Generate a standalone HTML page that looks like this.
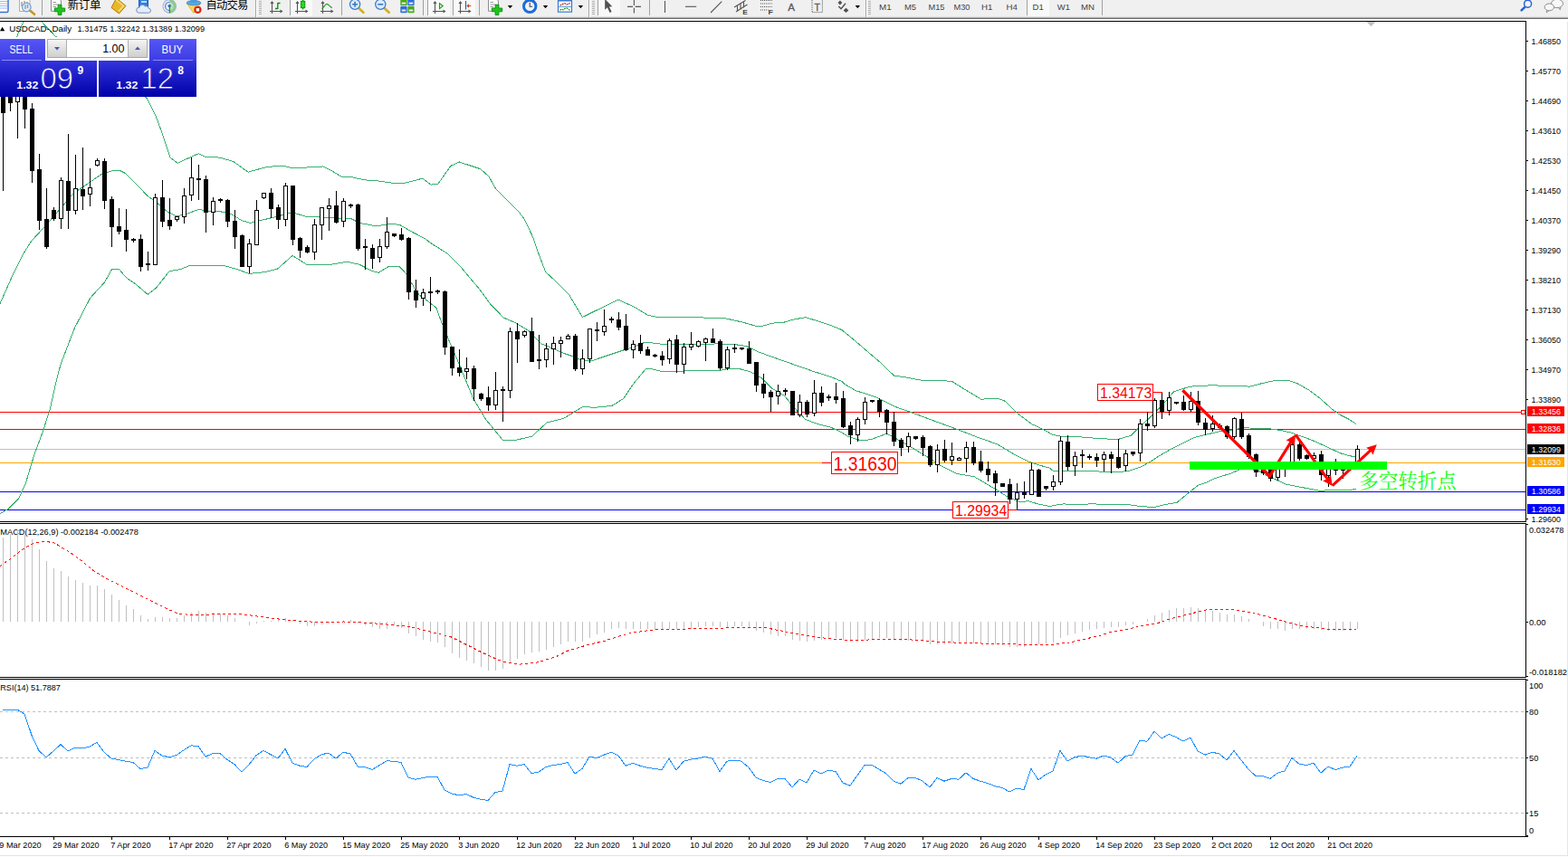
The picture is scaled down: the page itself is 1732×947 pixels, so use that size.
<!DOCTYPE html>
<html><head><meta charset="utf-8"><title>USDCAD Daily</title>
<style>
html,body{margin:0;padding:0;background:#fff;width:1732px;height:947px;overflow:hidden;font-family:"Liberation Sans",sans-serif;}
svg{display:block;position:absolute;left:0;top:0}
text{font-family:"Liberation Sans",sans-serif;}
</style></head><body>
<svg width="1732" height="947" viewBox="0 0 1732 947">
<rect x="0" y="0" width="1732" height="947" fill="#fff" />
<g shape-rendering="crispEdges">
<rect x="0" y="23" width="1686" height="1" fill="#000" />
<rect x="1685" y="23" width="1" height="554" fill="#000" />
<rect x="0" y="576" width="1686" height="1" fill="#000" />
<rect x="0" y="578" width="1686" height="1" fill="#000" />
<rect x="1685" y="578" width="1" height="171" fill="#000" />
<rect x="0" y="748" width="1686" height="1" fill="#000" />
<rect x="0" y="750" width="1686" height="1" fill="#000" />
<rect x="1685" y="750" width="1" height="175" fill="#000" />
<rect x="0" y="924" width="1688" height="1" fill="#000" />
<rect x="1731" y="24" width="1" height="922" fill="#e6e6e6" />
<rect x="0" y="945" width="1732" height="1" fill="#e2e2e2" />
</g>
<defs><clipPath id="cm"><rect x="0" y="24" width="1685" height="552"/></clipPath><linearGradient id="gp" x1="0" y1="0" x2="0" y2="1"><stop offset="0" stop-color="#3434de"/><stop offset="1" stop-color="#0000a8"/></linearGradient><linearGradient id="gb" x1="0" y1="0" x2="0" y2="1"><stop offset="0" stop-color="#5656f6"/><stop offset="1" stop-color="#3c3ce2"/></linearGradient><linearGradient id="gs" x1="0" y1="0" x2="0" y2="1"><stop offset="0" stop-color="#f4f4f4"/><stop offset="1" stop-color="#cfcfcf"/></linearGradient><linearGradient id="gp2" gradientUnits="userSpaceOnUse" x1="0" y1="67" x2="0" y2="107"><stop offset="0" stop-color="#3434de"/><stop offset="1" stop-color="#0000a8"/></linearGradient></defs>
<g clip-path="url(#cm)">
<g shape-rendering="crispEdges">
<rect x="0" y="455" width="1685" height="1" fill="#ff0000" />
<rect x="0" y="474" width="1685" height="1" fill="#ff0000" />
<rect x="0" y="496" width="1685" height="1" fill="#c0c0c0" />
<rect x="0" y="511" width="1685" height="1" fill="#ffa500" />
<rect x="0" y="543" width="1685" height="1" fill="#0000ff" />
<rect x="0" y="563" width="1685" height="1" fill="#0000ff" />
</g>
<polyline points="18.6,40.6 25.9,24.0 30.0,16.0 40.0,16.0 45.8,24.0 61.8,40.6 100.0,68.0 140.0,94.0 162.6,108.8 172.0,127.9 178.9,146.5 183.5,160.4 188.2,174.3 196.3,180.2 211.4,173.2 219.6,169.7 226.5,173.2 240.0,173.9 246.0,175.0 258.0,178.6 274.0,190.2 295.0,184.4 313.6,183.2 323.0,186.0 339.0,185.0 356.6,184.0 364.8,187.9 378.7,196.0 388.0,195.5 402.0,198.8 418.0,200.0 429.8,201.8 443.8,203.0 453.0,200.7 466.7,197.2 476.0,204.1 484.0,203.0 498.0,183.2 507.4,179.0 530.6,186.7 540.0,194.9 546.9,207.6 560.8,221.6 572.4,233.2 579.4,242.5 588.7,262.2 594.8,280.0 602.6,300.6 616.6,313.3 628.2,325.0 643.4,350.5 683.0,331.0 690.0,334.4 701.6,339.7 715.6,348.3 724.9,350.2 759.7,350.7 799.2,351.4 820.0,356.0 834.0,360.0 843.3,360.0 852.6,357.2 866.6,356.0 875.9,353.2 889.8,350.7 903.8,354.9 917.7,359.5 930.0,364.6 945.0,377.0 960.0,390.0 971.8,400.0 987.6,415.2 1000.3,416.9 1019.3,420.5 1051.0,421.1 1067.9,431.7 1083.7,441.2 1101.7,440.1 1110.2,443.3 1122.8,456.0 1139.7,468.7 1150.0,473.3 1162.7,480.3 1175.4,482.8 1192.3,482.8 1213.4,484.5 1234.5,485.6 1249.3,481.3 1259.9,470.8 1270.4,461.3 1281.0,450.7 1291.6,439.1 1296.3,433.0 1305.8,429.8 1315.3,427.1 1337.5,425.8 1366.0,426.6 1380.3,427.1 1394.6,423.5 1408.8,420.3 1423.1,420.3 1432.6,423.5 1445.2,430.6 1457.9,440.1 1472.2,452.8 1480.1,458.3 1489.6,463.1 1498.3,468.6" fill="none" stroke="#38b070" stroke-width="1" shape-rendering="crispEdges"/>
<polyline points="0.0,335.5 12.7,307.0 26.0,280.0 35.0,266.0 51.0,248.7 81.0,213.8 111.5,193.0 125.5,188.3 132.0,188.3 139.0,191.8 162.6,216.0 172.0,223.0 186.0,234.8 195.0,238.7 204.5,237.0 219.6,231.3 230.0,233.2 244.0,233.9 255.6,236.7 267.0,243.6 276.5,246.4 288.0,243.6 306.7,239.0 323.0,234.8 339.0,239.5 353.0,239.5 367.0,240.9 388.0,241.8 397.3,246.4 415.9,250.0 429.8,247.4 441.4,248.3 455.4,256.4 470.0,264.0 474.9,268.0 493.4,279.7 509.7,295.9 528.3,318.0 542.2,336.6 556.2,351.0 570.0,357.0 584.0,365.6 598.0,380.0 604.0,382.2 622.6,390.4 633.0,393.8 643.5,398.5 652.8,399.0 664.5,395.0 688.9,386.9 700.0,383.4 713.0,378.0 736.5,380.9 759.7,380.9 792.2,379.9 810.8,380.4 824.8,382.7 838.7,389.2 852.6,394.3 875.9,402.5 899.0,410.6 917.7,416.4 930.0,421.5 932.7,424.3 945.4,431.7 968.6,439.1 987.6,449.0 1004.5,454.9 1029.9,464.4 1057.3,474.4 1080.6,483.5 1101.7,490.9 1122.8,503.5 1135.5,509.9 1148.2,514.1 1160.0,517.3 1162.7,520.0 1175.4,520.9 1202.8,520.4 1224.0,521.5 1245.1,520.9 1259.9,516.2 1270.4,510.3 1281.0,503.5 1293.7,496.1 1308.5,488.7 1319.0,483.5 1331.7,480.3 1348.6,476.5 1361.3,475.0 1374.0,472.9 1380.3,473.0 1399.3,473.4 1413.6,475.3 1426.2,478.1 1432.6,480.5 1448.4,486.0 1464.3,493.2 1480.1,500.6 1489.6,503.5 1498.3,505.0" fill="none" stroke="#38b070" stroke-width="1" shape-rendering="crispEdges"/>
<polyline points="0.0,567.8 9.5,562.0 20.6,551.0 28.5,533.6 38.0,501.9 47.5,476.5 55.5,451.2 61.8,422.6 67.2,402.0 82.4,362.4 99.8,329.1 115.7,311.7 123.6,297.4 131.5,297.4 139.5,306.9 149.0,313.3 163.2,325.3 172.7,318.0 187.0,299.7 200.0,297.4 210.0,293.3 240.0,293.3 247.4,293.6 260.0,297.0 275.3,302.4 292.7,300.6 306.7,297.0 323.0,282.4 339.0,292.4 353.0,292.4 367.0,292.0 383.3,289.2 397.3,292.4 411.0,299.4 418.0,301.3 429.8,294.3 441.4,294.8 448.4,302.2 458.9,320.3 463.2,326.1 470.0,330.8 481.8,340.0 486.5,352.8 495.8,376.0 506.5,400.8 522.7,440.3 536.7,463.5 555.3,486.3 571.5,486.0 587.8,482.0 604.0,467.0 622.6,462.4 643.5,449.6 657.5,450.3 676.0,448.4 688.9,440.3 699.3,424.6 713.2,407.8 720.2,407.8 731.8,410.6 748.0,411.0 759.7,409.5 794.6,409.5 806.2,407.0 817.8,407.8 829.4,411.0 841.0,417.6 852.6,429.2 866.6,437.3 875.9,449.0 889.8,463.6 903.8,468.7 917.7,472.2 930.0,478.0 936.9,482.4 951.7,487.0 962.3,485.6 979.2,479.2 989.7,484.5 1004.5,493.0 1025.6,505.6 1038.3,514.1 1057.3,523.6 1076.3,526.8 1086.9,533.1 1099.6,540.5 1114.4,550.0 1127.1,554.9 1135.5,553.6 1148.2,557.4 1160.0,559.5 1166.9,558.0 1175.4,556.8 1185.9,558.0 1204.9,556.8 1224.0,557.4 1245.1,557.4 1259.9,559.5 1274.7,560.6 1287.3,557.4 1300.0,555.3 1312.7,544.7 1323.3,536.3 1331.7,533.5 1340.2,529.3 1361.3,522.5 1369.7,518.7 1380.0,518.0 1391.4,520.9 1400.9,526.4 1410.4,530.4 1419.9,535.1 1432.6,537.5 1445.2,539.9 1457.9,542.3 1472.2,541.5 1489.6,542.0 1498.3,540.2" fill="none" stroke="#38b070" stroke-width="1" shape-rendering="crispEdges"/>
<g shape-rendering="crispEdges">
<rect x="3" y="100" width="1" height="111" fill="#000" />
<rect x="1" y="100" width="5" height="25" fill="#000" />
<rect x="11" y="100" width="1" height="23" fill="#000" />
<rect x="9" y="100" width="5" height="14" fill="#000" />
<rect x="19" y="100" width="1" height="53" fill="#000" />
<rect x="17" y="100" width="5" height="13" fill="#000" />
<rect x="18" y="101" width="3" height="11" fill="#fff" />
<rect x="27" y="100" width="1" height="42" fill="#000" />
<rect x="25" y="100" width="5" height="21" fill="#000" />
<rect x="35" y="114" width="1" height="88" fill="#000" />
<rect x="33" y="120" width="5" height="69" fill="#000" />
<rect x="43" y="170" width="1" height="84" fill="#000" />
<rect x="41" y="187" width="5" height="57" fill="#000" />
<rect x="51" y="208" width="1" height="67" fill="#000" />
<rect x="49" y="242" width="5" height="31" fill="#000" />
<rect x="59" y="229" width="1" height="15" fill="#000" />
<rect x="57" y="232" width="5" height="10" fill="#000" />
<rect x="67" y="196" width="1" height="57" fill="#000" />
<rect x="65" y="199" width="5" height="43" fill="#000" />
<rect x="66" y="200" width="3" height="41" fill="#fff" />
<rect x="75" y="148" width="1" height="105" fill="#000" />
<rect x="73" y="200" width="5" height="33" fill="#000" />
<rect x="83" y="171" width="1" height="66" fill="#000" />
<rect x="81" y="208" width="5" height="25" fill="#000" />
<rect x="82" y="209" width="3" height="23" fill="#fff" />
<rect x="91" y="163" width="1" height="69" fill="#000" />
<rect x="89" y="209" width="5" height="8" fill="#000" />
<rect x="99" y="186" width="1" height="42" fill="#000" />
<rect x="97" y="207" width="5" height="8" fill="#000" />
<rect x="98" y="208" width="3" height="6" fill="#fff" />
<rect x="107" y="175" width="1" height="9" fill="#000" />
<rect x="105" y="177" width="5" height="6" fill="#000" />
<rect x="106" y="178" width="3" height="4" fill="#fff" />
<rect x="115" y="175" width="1" height="56" fill="#000" />
<rect x="113" y="178" width="5" height="44" fill="#000" />
<rect x="123" y="217" width="1" height="56" fill="#000" />
<rect x="121" y="220" width="5" height="31" fill="#000" />
<rect x="131" y="230" width="1" height="29" fill="#000" />
<rect x="129" y="250" width="5" height="6" fill="#000" />
<rect x="139" y="231" width="1" height="47" fill="#000" />
<rect x="137" y="254" width="5" height="11" fill="#000" />
<rect x="147" y="263" width="1" height="5" fill="#000" />
<rect x="145" y="264" width="5" height="2" fill="#000" />
<rect x="155" y="259" width="1" height="41" fill="#000" />
<rect x="153" y="264" width="5" height="31" fill="#000" />
<rect x="163" y="278" width="1" height="21" fill="#000" />
<rect x="161" y="291" width="5" height="2" fill="#000" />
<rect x="171" y="214" width="1" height="79" fill="#000" />
<rect x="169" y="218" width="5" height="75" fill="#000" />
<rect x="170" y="219" width="3" height="73" fill="#fff" />
<rect x="179" y="199" width="1" height="52" fill="#000" />
<rect x="177" y="218" width="5" height="27" fill="#000" />
<rect x="187" y="219" width="1" height="35" fill="#000" />
<rect x="185" y="243" width="5" height="7" fill="#000" />
<rect x="195" y="239" width="1" height="6" fill="#000" />
<rect x="193" y="239" width="5" height="4" fill="#000" />
<rect x="194" y="240" width="3" height="2" fill="#fff" />
<rect x="203" y="208" width="1" height="39" fill="#000" />
<rect x="201" y="216" width="5" height="24" fill="#000" />
<rect x="202" y="217" width="3" height="22" fill="#fff" />
<rect x="211" y="174" width="1" height="48" fill="#000" />
<rect x="209" y="196" width="5" height="20" fill="#000" />
<rect x="210" y="197" width="3" height="18" fill="#fff" />
<rect x="219" y="182" width="1" height="39" fill="#000" />
<rect x="217" y="197" width="5" height="2" fill="#000" />
<rect x="227" y="194" width="1" height="63" fill="#000" />
<rect x="225" y="198" width="5" height="37" fill="#000" />
<rect x="235" y="218" width="1" height="31" fill="#000" />
<rect x="233" y="222" width="5" height="13" fill="#000" />
<rect x="234" y="223" width="3" height="11" fill="#fff" />
<rect x="243" y="219" width="1" height="5" fill="#000" />
<rect x="241" y="220" width="5" height="2" fill="#000" />
<rect x="251" y="220" width="1" height="31" fill="#000" />
<rect x="249" y="221" width="5" height="24" fill="#000" />
<rect x="259" y="232" width="1" height="43" fill="#000" />
<rect x="257" y="244" width="5" height="18" fill="#000" />
<rect x="267" y="259" width="1" height="36" fill="#000" />
<rect x="265" y="260" width="5" height="35" fill="#000" />
<rect x="275" y="264" width="1" height="38" fill="#000" />
<rect x="273" y="269" width="5" height="26" fill="#000" />
<rect x="274" y="270" width="3" height="24" fill="#fff" />
<rect x="283" y="221" width="1" height="50" fill="#000" />
<rect x="281" y="232" width="5" height="39" fill="#000" />
<rect x="282" y="233" width="3" height="37" fill="#fff" />
<rect x="291" y="213" width="1" height="7" fill="#000" />
<rect x="289" y="213" width="5" height="6" fill="#000" />
<rect x="290" y="214" width="3" height="4" fill="#fff" />
<rect x="299" y="208" width="1" height="33" fill="#000" />
<rect x="297" y="213" width="5" height="18" fill="#000" />
<rect x="307" y="226" width="1" height="27" fill="#000" />
<rect x="305" y="229" width="5" height="14" fill="#000" />
<rect x="315" y="202" width="1" height="48" fill="#000" />
<rect x="313" y="205" width="5" height="38" fill="#000" />
<rect x="314" y="206" width="3" height="36" fill="#fff" />
<rect x="323" y="205" width="1" height="66" fill="#000" />
<rect x="321" y="205" width="5" height="60" fill="#000" />
<rect x="331" y="262" width="1" height="23" fill="#000" />
<rect x="329" y="263" width="5" height="14" fill="#000" />
<rect x="339" y="271" width="1" height="9" fill="#000" />
<rect x="337" y="273" width="5" height="6" fill="#000" />
<rect x="347" y="242" width="1" height="45" fill="#000" />
<rect x="345" y="248" width="5" height="31" fill="#000" />
<rect x="346" y="249" width="3" height="29" fill="#fff" />
<rect x="355" y="229" width="1" height="36" fill="#000" />
<rect x="353" y="229" width="5" height="20" fill="#000" />
<rect x="354" y="230" width="3" height="18" fill="#fff" />
<rect x="363" y="219" width="1" height="36" fill="#000" />
<rect x="361" y="227" width="5" height="4" fill="#000" />
<rect x="362" y="228" width="3" height="2" fill="#fff" />
<rect x="371" y="211" width="1" height="36" fill="#000" />
<rect x="369" y="227" width="5" height="19" fill="#000" />
<rect x="379" y="219" width="1" height="32" fill="#000" />
<rect x="377" y="222" width="5" height="23" fill="#000" />
<rect x="378" y="223" width="3" height="21" fill="#fff" />
<rect x="387" y="225" width="1" height="5" fill="#000" />
<rect x="385" y="226" width="5" height="2" fill="#000" />
<rect x="395" y="225" width="1" height="52" fill="#000" />
<rect x="393" y="226" width="5" height="49" fill="#000" />
<rect x="403" y="264" width="1" height="34" fill="#000" />
<rect x="401" y="272" width="5" height="2" fill="#000" />
<rect x="411" y="270" width="1" height="27" fill="#000" />
<rect x="409" y="274" width="5" height="12" fill="#000" />
<rect x="419" y="264" width="1" height="26" fill="#000" />
<rect x="417" y="272" width="5" height="13" fill="#000" />
<rect x="418" y="273" width="3" height="11" fill="#fff" />
<rect x="427" y="240" width="1" height="35" fill="#000" />
<rect x="425" y="256" width="5" height="17" fill="#000" />
<rect x="426" y="257" width="3" height="15" fill="#fff" />
<rect x="435" y="258" width="1" height="4" fill="#000" />
<rect x="433" y="258" width="5" height="3" fill="#000" />
<rect x="443" y="252" width="1" height="14" fill="#000" />
<rect x="441" y="259" width="5" height="6" fill="#000" />
<rect x="451" y="262" width="1" height="69" fill="#000" />
<rect x="449" y="263" width="5" height="60" fill="#000" />
<rect x="459" y="309" width="1" height="31" fill="#000" />
<rect x="457" y="321" width="5" height="11" fill="#000" />
<rect x="467" y="319" width="1" height="19" fill="#000" />
<rect x="465" y="323" width="5" height="7" fill="#000" />
<rect x="466" y="324" width="3" height="5" fill="#fff" />
<rect x="475" y="306" width="1" height="38" fill="#000" />
<rect x="473" y="322" width="5" height="2" fill="#000" />
<rect x="483" y="320" width="1" height="5" fill="#000" />
<rect x="481" y="321" width="5" height="2" fill="#000" />
<rect x="491" y="321" width="1" height="71" fill="#000" />
<rect x="489" y="322" width="5" height="62" fill="#000" />
<rect x="499" y="383" width="1" height="32" fill="#000" />
<rect x="497" y="383" width="5" height="24" fill="#000" />
<rect x="507" y="386" width="1" height="30" fill="#000" />
<rect x="505" y="406" width="5" height="6" fill="#000" />
<rect x="515" y="395" width="1" height="24" fill="#000" />
<rect x="513" y="407" width="5" height="4" fill="#000" />
<rect x="514" y="408" width="3" height="2" fill="#fff" />
<rect x="523" y="404" width="1" height="39" fill="#000" />
<rect x="521" y="407" width="5" height="23" fill="#000" />
<rect x="531" y="434" width="1" height="9" fill="#000" />
<rect x="529" y="435" width="5" height="6" fill="#000" />
<rect x="539" y="427" width="1" height="27" fill="#000" />
<rect x="537" y="439" width="5" height="9" fill="#000" />
<rect x="547" y="411" width="1" height="42" fill="#000" />
<rect x="545" y="431" width="5" height="17" fill="#000" />
<rect x="546" y="432" width="3" height="15" fill="#fff" />
<rect x="555" y="427" width="1" height="39" fill="#000" />
<rect x="553" y="430" width="5" height="2" fill="#000" />
<rect x="563" y="362" width="1" height="78" fill="#000" />
<rect x="561" y="366" width="5" height="66" fill="#000" />
<rect x="562" y="367" width="3" height="64" fill="#fff" />
<rect x="571" y="357" width="1" height="44" fill="#000" />
<rect x="569" y="366" width="5" height="9" fill="#000" />
<rect x="579" y="365" width="1" height="8" fill="#000" />
<rect x="577" y="366" width="5" height="5" fill="#000" />
<rect x="578" y="367" width="3" height="3" fill="#fff" />
<rect x="587" y="351" width="1" height="49" fill="#000" />
<rect x="585" y="366" width="5" height="34" fill="#000" />
<rect x="595" y="370" width="1" height="38" fill="#000" />
<rect x="593" y="397" width="5" height="2" fill="#000" />
<rect x="603" y="379" width="1" height="27" fill="#000" />
<rect x="601" y="385" width="5" height="13" fill="#000" />
<rect x="602" y="386" width="3" height="11" fill="#fff" />
<rect x="611" y="372" width="1" height="31" fill="#000" />
<rect x="609" y="379" width="5" height="7" fill="#000" />
<rect x="610" y="380" width="3" height="5" fill="#fff" />
<rect x="619" y="372" width="1" height="23" fill="#000" />
<rect x="617" y="376" width="5" height="4" fill="#000" />
<rect x="618" y="377" width="3" height="2" fill="#fff" />
<rect x="627" y="369" width="1" height="6" fill="#000" />
<rect x="625" y="371" width="5" height="4" fill="#000" />
<rect x="626" y="372" width="3" height="2" fill="#fff" />
<rect x="635" y="369" width="1" height="41" fill="#000" />
<rect x="633" y="371" width="5" height="37" fill="#000" />
<rect x="643" y="386" width="1" height="28" fill="#000" />
<rect x="641" y="396" width="5" height="12" fill="#000" />
<rect x="642" y="397" width="3" height="10" fill="#fff" />
<rect x="651" y="363" width="1" height="38" fill="#000" />
<rect x="649" y="363" width="5" height="34" fill="#000" />
<rect x="650" y="364" width="3" height="32" fill="#fff" />
<rect x="659" y="356" width="1" height="21" fill="#000" />
<rect x="657" y="364" width="5" height="2" fill="#000" />
<rect x="667" y="342" width="1" height="29" fill="#000" />
<rect x="665" y="360" width="5" height="7" fill="#000" />
<rect x="666" y="361" width="3" height="5" fill="#fff" />
<rect x="675" y="350" width="1" height="7" fill="#000" />
<rect x="673" y="352" width="5" height="2" fill="#000" />
<rect x="683" y="345" width="1" height="20" fill="#000" />
<rect x="681" y="353" width="5" height="9" fill="#000" />
<rect x="691" y="347" width="1" height="41" fill="#000" />
<rect x="689" y="360" width="5" height="27" fill="#000" />
<rect x="699" y="376" width="1" height="20" fill="#000" />
<rect x="697" y="380" width="5" height="7" fill="#000" />
<rect x="698" y="381" width="3" height="5" fill="#fff" />
<rect x="707" y="370" width="1" height="21" fill="#000" />
<rect x="705" y="379" width="5" height="9" fill="#000" />
<rect x="715" y="383" width="1" height="10" fill="#000" />
<rect x="713" y="386" width="5" height="7" fill="#000" />
<rect x="723" y="391" width="1" height="4" fill="#000" />
<rect x="721" y="392" width="5" height="2" fill="#000" />
<rect x="731" y="388" width="1" height="16" fill="#000" />
<rect x="729" y="393" width="5" height="5" fill="#000" />
<rect x="739" y="374" width="1" height="28" fill="#000" />
<rect x="737" y="376" width="5" height="21" fill="#000" />
<rect x="738" y="377" width="3" height="19" fill="#fff" />
<rect x="747" y="370" width="1" height="42" fill="#000" />
<rect x="745" y="375" width="5" height="28" fill="#000" />
<rect x="755" y="379" width="1" height="34" fill="#000" />
<rect x="753" y="383" width="5" height="20" fill="#000" />
<rect x="754" y="384" width="3" height="18" fill="#fff" />
<rect x="763" y="367" width="1" height="20" fill="#000" />
<rect x="761" y="380" width="5" height="4" fill="#000" />
<rect x="762" y="381" width="3" height="2" fill="#fff" />
<rect x="771" y="376" width="1" height="8" fill="#000" />
<rect x="769" y="377" width="5" height="6" fill="#000" />
<rect x="770" y="378" width="3" height="4" fill="#fff" />
<rect x="779" y="373" width="1" height="26" fill="#000" />
<rect x="777" y="374" width="5" height="5" fill="#000" />
<rect x="778" y="375" width="3" height="3" fill="#fff" />
<rect x="787" y="363" width="1" height="16" fill="#000" />
<rect x="785" y="374" width="5" height="5" fill="#000" />
<rect x="795" y="375" width="1" height="34" fill="#000" />
<rect x="793" y="377" width="5" height="30" fill="#000" />
<rect x="803" y="383" width="1" height="26" fill="#000" />
<rect x="801" y="386" width="5" height="21" fill="#000" />
<rect x="802" y="387" width="3" height="19" fill="#fff" />
<rect x="811" y="380" width="1" height="10" fill="#000" />
<rect x="809" y="384" width="5" height="2" fill="#000" />
<rect x="819" y="384" width="1" height="3" fill="#000" />
<rect x="817" y="384" width="5" height="2" fill="#000" />
<rect x="827" y="377" width="1" height="25" fill="#000" />
<rect x="825" y="385" width="5" height="17" fill="#000" />
<rect x="835" y="400" width="1" height="33" fill="#000" />
<rect x="833" y="400" width="5" height="26" fill="#000" />
<rect x="843" y="413" width="1" height="27" fill="#000" />
<rect x="841" y="424" width="5" height="11" fill="#000" />
<rect x="851" y="431" width="1" height="24" fill="#000" />
<rect x="849" y="433" width="5" height="6" fill="#000" />
<rect x="859" y="425" width="1" height="22" fill="#000" />
<rect x="857" y="432" width="5" height="6" fill="#000" />
<rect x="858" y="433" width="3" height="4" fill="#fff" />
<rect x="867" y="429" width="1" height="8" fill="#000" />
<rect x="865" y="431" width="5" height="2" fill="#000" />
<rect x="875" y="432" width="1" height="27" fill="#000" />
<rect x="873" y="432" width="5" height="27" fill="#000" />
<rect x="883" y="436" width="1" height="25" fill="#000" />
<rect x="881" y="444" width="5" height="15" fill="#000" />
<rect x="882" y="445" width="3" height="13" fill="#fff" />
<rect x="891" y="442" width="1" height="19" fill="#000" />
<rect x="889" y="444" width="5" height="14" fill="#000" />
<rect x="899" y="420" width="1" height="40" fill="#000" />
<rect x="897" y="434" width="5" height="23" fill="#000" />
<rect x="898" y="435" width="3" height="21" fill="#fff" />
<rect x="907" y="427" width="1" height="22" fill="#000" />
<rect x="905" y="434" width="5" height="11" fill="#000" />
<rect x="915" y="436" width="1" height="7" fill="#000" />
<rect x="913" y="438" width="5" height="2" fill="#000" />
<rect x="923" y="423" width="1" height="23" fill="#000" />
<rect x="921" y="438" width="5" height="4" fill="#000" />
<rect x="931" y="432" width="1" height="41" fill="#000" />
<rect x="929" y="440" width="5" height="32" fill="#000" />
<rect x="939" y="466" width="1" height="25" fill="#000" />
<rect x="937" y="470" width="5" height="11" fill="#000" />
<rect x="947" y="461" width="1" height="27" fill="#000" />
<rect x="945" y="463" width="5" height="18" fill="#000" />
<rect x="946" y="464" width="3" height="16" fill="#fff" />
<rect x="955" y="439" width="1" height="30" fill="#000" />
<rect x="953" y="444" width="5" height="20" fill="#000" />
<rect x="954" y="445" width="3" height="18" fill="#fff" />
<rect x="963" y="442" width="1" height="3" fill="#000" />
<rect x="961" y="442" width="5" height="2" fill="#000" />
<rect x="971" y="440" width="1" height="21" fill="#000" />
<rect x="969" y="442" width="5" height="13" fill="#000" />
<rect x="979" y="452" width="1" height="28" fill="#000" />
<rect x="977" y="453" width="5" height="14" fill="#000" />
<rect x="987" y="455" width="1" height="38" fill="#000" />
<rect x="985" y="466" width="5" height="22" fill="#000" />
<rect x="995" y="484" width="1" height="20" fill="#000" />
<rect x="993" y="486" width="5" height="9" fill="#000" />
<rect x="1003" y="478" width="1" height="22" fill="#000" />
<rect x="1001" y="482" width="5" height="12" fill="#000" />
<rect x="1002" y="483" width="3" height="10" fill="#fff" />
<rect x="1011" y="482" width="1" height="4" fill="#000" />
<rect x="1009" y="482" width="5" height="3" fill="#000" />
<rect x="1019" y="481" width="1" height="23" fill="#000" />
<rect x="1017" y="483" width="5" height="12" fill="#000" />
<rect x="1027" y="492" width="1" height="24" fill="#000" />
<rect x="1025" y="493" width="5" height="21" fill="#000" />
<rect x="1035" y="491" width="1" height="31" fill="#000" />
<rect x="1033" y="497" width="5" height="17" fill="#000" />
<rect x="1034" y="498" width="3" height="15" fill="#fff" />
<rect x="1043" y="486" width="1" height="25" fill="#000" />
<rect x="1041" y="496" width="5" height="13" fill="#000" />
<rect x="1051" y="489" width="1" height="25" fill="#000" />
<rect x="1049" y="504" width="5" height="5" fill="#000" />
<rect x="1050" y="505" width="3" height="3" fill="#fff" />
<rect x="1059" y="505" width="1" height="4" fill="#000" />
<rect x="1057" y="506" width="5" height="3" fill="#000" />
<rect x="1058" y="507" width="3" height="1" fill="#fff" />
<rect x="1067" y="488" width="1" height="34" fill="#000" />
<rect x="1065" y="494" width="5" height="13" fill="#000" />
<rect x="1066" y="495" width="3" height="11" fill="#fff" />
<rect x="1075" y="488" width="1" height="26" fill="#000" />
<rect x="1073" y="494" width="5" height="18" fill="#000" />
<rect x="1083" y="498" width="1" height="24" fill="#000" />
<rect x="1081" y="510" width="5" height="10" fill="#000" />
<rect x="1091" y="510" width="1" height="22" fill="#000" />
<rect x="1089" y="518" width="5" height="7" fill="#000" />
<rect x="1099" y="520" width="1" height="28" fill="#000" />
<rect x="1097" y="523" width="5" height="11" fill="#000" />
<rect x="1107" y="534" width="1" height="4" fill="#000" />
<rect x="1105" y="534" width="5" height="4" fill="#000" />
<rect x="1115" y="529" width="1" height="28" fill="#000" />
<rect x="1113" y="535" width="5" height="17" fill="#000" />
<rect x="1123" y="534" width="1" height="30" fill="#000" />
<rect x="1121" y="544" width="5" height="8" fill="#000" />
<rect x="1122" y="545" width="3" height="6" fill="#fff" />
<rect x="1131" y="532" width="1" height="19" fill="#000" />
<rect x="1129" y="544" width="5" height="3" fill="#000" />
<rect x="1139" y="511" width="1" height="36" fill="#000" />
<rect x="1137" y="519" width="5" height="28" fill="#000" />
<rect x="1138" y="520" width="3" height="26" fill="#fff" />
<rect x="1147" y="518" width="1" height="31" fill="#000" />
<rect x="1145" y="519" width="5" height="30" fill="#000" />
<rect x="1155" y="537" width="1" height="5" fill="#000" />
<rect x="1153" y="537" width="5" height="3" fill="#000" />
<rect x="1163" y="525" width="1" height="17" fill="#000" />
<rect x="1161" y="532" width="5" height="6" fill="#000" />
<rect x="1162" y="533" width="3" height="4" fill="#fff" />
<rect x="1171" y="482" width="1" height="54" fill="#000" />
<rect x="1169" y="487" width="5" height="46" fill="#000" />
<rect x="1170" y="488" width="3" height="44" fill="#fff" />
<rect x="1179" y="481" width="1" height="39" fill="#000" />
<rect x="1177" y="488" width="5" height="28" fill="#000" />
<rect x="1187" y="499" width="1" height="27" fill="#000" />
<rect x="1185" y="504" width="5" height="11" fill="#000" />
<rect x="1186" y="505" width="3" height="9" fill="#fff" />
<rect x="1195" y="497" width="1" height="20" fill="#000" />
<rect x="1193" y="502" width="5" height="2" fill="#000" />
<rect x="1203" y="502" width="1" height="6" fill="#000" />
<rect x="1201" y="504" width="5" height="2" fill="#000" />
<rect x="1211" y="501" width="1" height="15" fill="#000" />
<rect x="1209" y="505" width="5" height="4" fill="#000" />
<rect x="1219" y="499" width="1" height="22" fill="#000" />
<rect x="1217" y="502" width="5" height="6" fill="#000" />
<rect x="1218" y="503" width="3" height="4" fill="#fff" />
<rect x="1227" y="499" width="1" height="24" fill="#000" />
<rect x="1225" y="502" width="5" height="5" fill="#000" />
<rect x="1235" y="485" width="1" height="33" fill="#000" />
<rect x="1233" y="505" width="5" height="12" fill="#000" />
<rect x="1243" y="497" width="1" height="24" fill="#000" />
<rect x="1241" y="501" width="5" height="14" fill="#000" />
<rect x="1242" y="502" width="3" height="12" fill="#fff" />
<rect x="1251" y="499" width="1" height="5" fill="#000" />
<rect x="1249" y="499" width="5" height="3" fill="#000" />
<rect x="1259" y="463" width="1" height="47" fill="#000" />
<rect x="1257" y="468" width="5" height="33" fill="#000" />
<rect x="1258" y="469" width="3" height="31" fill="#fff" />
<rect x="1267" y="455" width="1" height="21" fill="#000" />
<rect x="1265" y="468" width="5" height="3" fill="#000" />
<rect x="1275" y="440" width="1" height="33" fill="#000" />
<rect x="1273" y="442" width="5" height="29" fill="#000" />
<rect x="1274" y="443" width="3" height="27" fill="#fff" />
<rect x="1283" y="433" width="1" height="30" fill="#000" />
<rect x="1281" y="442" width="5" height="13" fill="#000" />
<rect x="1291" y="433" width="1" height="26" fill="#000" />
<rect x="1289" y="439" width="5" height="15" fill="#000" />
<rect x="1290" y="440" width="3" height="13" fill="#fff" />
<rect x="1299" y="444" width="1" height="3" fill="#000" />
<rect x="1297" y="444" width="5" height="2" fill="#000" />
<rect x="1307" y="437" width="1" height="17" fill="#000" />
<rect x="1305" y="444" width="5" height="9" fill="#000" />
<rect x="1315" y="433" width="1" height="22" fill="#000" />
<rect x="1313" y="443" width="5" height="10" fill="#000" />
<rect x="1314" y="444" width="3" height="8" fill="#fff" />
<rect x="1323" y="432" width="1" height="38" fill="#000" />
<rect x="1321" y="443" width="5" height="24" fill="#000" />
<rect x="1331" y="462" width="1" height="19" fill="#000" />
<rect x="1329" y="467" width="5" height="8" fill="#000" />
<rect x="1339" y="459" width="1" height="18" fill="#000" />
<rect x="1337" y="468" width="5" height="6" fill="#000" />
<rect x="1338" y="469" width="3" height="4" fill="#fff" />
<rect x="1347" y="468" width="1" height="7" fill="#000" />
<rect x="1345" y="470" width="5" height="3" fill="#000" />
<rect x="1355" y="470" width="1" height="15" fill="#000" />
<rect x="1353" y="471" width="5" height="12" fill="#000" />
<rect x="1363" y="461" width="1" height="24" fill="#000" />
<rect x="1361" y="462" width="5" height="21" fill="#000" />
<rect x="1362" y="463" width="3" height="19" fill="#fff" />
<rect x="1371" y="456" width="1" height="29" fill="#000" />
<rect x="1369" y="463" width="5" height="20" fill="#000" />
<rect x="1379" y="479" width="1" height="28" fill="#000" />
<rect x="1377" y="481" width="5" height="24" fill="#000" />
<rect x="1387" y="501" width="1" height="26" fill="#000" />
<rect x="1385" y="502" width="5" height="20" fill="#000" />
<rect x="1395" y="516" width="1" height="9" fill="#000" />
<rect x="1393" y="519" width="5" height="4" fill="#000" />
<rect x="1403" y="517" width="1" height="15" fill="#000" />
<rect x="1401" y="519" width="5" height="10" fill="#000" />
<rect x="1411" y="513" width="1" height="18" fill="#000" />
<rect x="1409" y="518" width="5" height="10" fill="#000" />
<rect x="1410" y="519" width="3" height="8" fill="#fff" />
<rect x="1419" y="511" width="1" height="16" fill="#000" />
<rect x="1417" y="515" width="5" height="2" fill="#000" />
<rect x="1427" y="485" width="1" height="33" fill="#000" />
<rect x="1425" y="491" width="5" height="25" fill="#000" />
<rect x="1426" y="492" width="3" height="23" fill="#fff" />
<rect x="1435" y="488" width="1" height="21" fill="#000" />
<rect x="1433" y="491" width="5" height="16" fill="#000" />
<rect x="1443" y="502" width="1" height="6" fill="#000" />
<rect x="1441" y="503" width="5" height="4" fill="#000" />
<rect x="1451" y="500" width="1" height="8" fill="#000" />
<rect x="1449" y="503" width="5" height="4" fill="#000" />
<rect x="1450" y="504" width="3" height="2" fill="#fff" />
<rect x="1459" y="498" width="1" height="33" fill="#000" />
<rect x="1457" y="502" width="5" height="23" fill="#000" />
<rect x="1467" y="515" width="1" height="23" fill="#000" />
<rect x="1465" y="517" width="5" height="9" fill="#000" />
<rect x="1466" y="518" width="3" height="7" fill="#fff" />
<rect x="1475" y="507" width="1" height="18" fill="#000" />
<rect x="1473" y="518" width="5" height="2" fill="#000" />
<rect x="1483" y="514" width="1" height="15" fill="#000" />
<rect x="1481" y="518" width="5" height="2" fill="#000" />
<rect x="1491" y="512" width="1" height="7" fill="#000" />
<rect x="1489" y="514" width="5" height="3" fill="#000" />
<rect x="1499" y="492" width="1" height="27" fill="#000" />
<rect x="1497" y="496" width="5" height="21" fill="#000" />
<rect x="1498" y="497" width="3" height="19" fill="#fff" />
</g>
<line x1="1306.3" y1="431.2" x2="1402" y2="525.5" stroke="#ff0000" stroke-width="3.3" stroke-linecap="butt"/>
<line x1="1401.5" y1="527.6" x2="1426.7664602758987" y2="487.08801454067793" stroke="#ff0000" stroke-width="3.1" stroke-linecap="butt"/>
<polygon points="1431.0,480.3 1429.9,492.3 1426.0,488.4 1420.7,486.6" fill="#ff0000"/>
<line x1="1431" y1="480.3" x2="1467.1219383155833" y2="530.410335996618" stroke="#ff0000" stroke-width="3.1" stroke-linecap="butt"/>
<polygon points="1471.8,536.9 1461.1,531.3 1466.2,529.2 1469.9,525.0" fill="#ff0000"/>
<line x1="1471.8" y1="536.7" x2="1514.931683922493" y2="496.73717448813926" stroke="#ff0000" stroke-width="3.1" stroke-linecap="butt"/>
<polygon points="1520.8,491.3 1516.5,502.6 1513.8,497.8 1509.2,494.7" fill="#ff0000"/>
<rect x="1314" y="510" width="218" height="9" fill="#00ff00" shape-rendering="crispEdges"/>
</g>
<g font-family="Liberation Sans, sans-serif">
<g shape-rendering="crispEdges">
<rect x="908" y="511" width="10" height="1" fill="#ff0000" />
<rect x="918" y="499" width="74" height="25" fill="#fff" />
<rect x="918.5" y="499.5" width="73" height="24" fill="#fff" stroke="#ff0000" stroke-width="1"/>
<rect x="1114" y="563" width="10" height="1" fill="#ff0000" />
<rect x="1052.5" y="554.5" width="61" height="18" fill="#fff" stroke="#ff0000" stroke-width="1"/>
<rect x="1274" y="433" width="10" height="1" fill="#ff0000" />
<rect x="1212.5" y="424.5" width="61" height="18" fill="#fff" stroke="#ff0000" stroke-width="1"/>
</g>
<text x="920.6" y="520" font-size="22" fill="#ff0000" text-anchor="start" font-weight="normal" textLength="69.8" lengthAdjust="spacingAndGlyphs" >1.31630</text>
<text x="1055" y="570.1" font-size="17" fill="#ff0000" text-anchor="start" font-weight="normal" textLength="57.2" lengthAdjust="spacingAndGlyphs" >1.29934</text>
<text x="1215" y="439.6" font-size="17" fill="#ff0000" text-anchor="start" font-weight="normal" textLength="57.2" lengthAdjust="spacingAndGlyphs" >1.34173</text>
<text x="1501.3" y="539.3" font-size="21.5" fill="#10ff10" text-anchor="start" textLength="107.5" lengthAdjust="spacing" style="font-family:'Liberation Serif','Noto Serif CJK SC',serif">多空转折点</text>
<polygon points="1509.5,24 1519.5,24 1514.5,29.2" fill="#c0c0c0"/>
<polygon points="0,34.3 5.2,34.3 2.6,29.8" fill="#000"/>
<text x="10.3" y="34.7" font-size="9.4" fill="#000" text-anchor="start" font-weight="normal" textLength="68.8" lengthAdjust="spacingAndGlyphs" >USDCAD-,Daily</text>
<text x="85.5" y="34.7" font-size="9.4" fill="#000" text-anchor="start" font-weight="normal" textLength="140.6" lengthAdjust="spacingAndGlyphs" >1.31475 1.32242 1.31389 1.32099</text>
<text x="0.3" y="591" font-size="9.3" fill="#000" text-anchor="start" font-weight="normal" textLength="152.5" lengthAdjust="spacingAndGlyphs" >MACD(12,26,9) -0.002184 -0.002478</text>
<text x="0.3" y="763" font-size="9.3" fill="#000" text-anchor="start" font-weight="normal" textLength="66.5" lengthAdjust="spacingAndGlyphs" >RSI(14) 51.7887</text>
</g>
<g shape-rendering="crispEdges">
<rect x="3" y="594" width="1" height="93" fill="#c0c0c0" />
<rect x="11" y="590" width="1" height="97" fill="#c0c0c0" />
<rect x="19" y="585" width="1" height="102" fill="#c0c0c0" />
<rect x="27" y="590" width="1" height="97" fill="#c0c0c0" />
<rect x="35" y="596" width="1" height="91" fill="#c0c0c0" />
<rect x="43" y="607" width="1" height="80" fill="#c0c0c0" />
<rect x="51" y="620" width="1" height="67" fill="#c0c0c0" />
<rect x="59" y="628" width="1" height="59" fill="#c0c0c0" />
<rect x="67" y="631" width="1" height="56" fill="#c0c0c0" />
<rect x="75" y="637" width="1" height="50" fill="#c0c0c0" />
<rect x="83" y="641" width="1" height="46" fill="#c0c0c0" />
<rect x="91" y="644" width="1" height="43" fill="#c0c0c0" />
<rect x="99" y="647" width="1" height="40" fill="#c0c0c0" />
<rect x="107" y="647" width="1" height="40" fill="#c0c0c0" />
<rect x="115" y="651" width="1" height="36" fill="#c0c0c0" />
<rect x="123" y="657" width="1" height="30" fill="#c0c0c0" />
<rect x="131" y="663" width="1" height="24" fill="#c0c0c0" />
<rect x="139" y="669" width="1" height="18" fill="#c0c0c0" />
<rect x="147" y="673" width="1" height="14" fill="#c0c0c0" />
<rect x="155" y="680" width="1" height="7" fill="#c0c0c0" />
<rect x="163" y="684" width="1" height="3" fill="#c0c0c0" />
<rect x="171" y="682" width="1" height="5" fill="#c0c0c0" />
<rect x="179" y="682" width="1" height="5" fill="#c0c0c0" />
<rect x="187" y="683" width="1" height="4" fill="#c0c0c0" />
<rect x="195" y="683" width="1" height="4" fill="#c0c0c0" />
<rect x="203" y="680" width="1" height="7" fill="#c0c0c0" />
<rect x="211" y="677" width="1" height="10" fill="#c0c0c0" />
<rect x="219" y="675" width="1" height="12" fill="#c0c0c0" />
<rect x="227" y="677" width="1" height="10" fill="#c0c0c0" />
<rect x="235" y="677" width="1" height="10" fill="#c0c0c0" />
<rect x="243" y="678" width="1" height="9" fill="#c0c0c0" />
<rect x="251" y="680" width="1" height="7" fill="#c0c0c0" />
<rect x="259" y="683" width="1" height="4" fill="#c0c0c0" />
<rect x="275" y="687" width="1" height="4" fill="#c0c0c0" />
<rect x="283" y="687" width="1" height="2" fill="#c0c0c0" />
<rect x="291" y="686" width="1" height="1" fill="#c0c0c0" />
<rect x="299" y="686" width="1" height="1" fill="#c0c0c0" />
<rect x="307" y="684" width="1" height="3" fill="#c0c0c0" />
<rect x="315" y="683" width="1" height="4" fill="#c0c0c0" />
<rect x="323" y="685" width="1" height="2" fill="#c0c0c0" />
<rect x="331" y="687" width="1" height="2" fill="#c0c0c0" />
<rect x="339" y="687" width="1" height="5" fill="#c0c0c0" />
<rect x="347" y="687" width="1" height="5" fill="#c0c0c0" />
<rect x="355" y="687" width="1" height="3" fill="#c0c0c0" />
<rect x="363" y="687" width="1" height="2" fill="#c0c0c0" />
<rect x="379" y="686" width="1" height="1" fill="#c0c0c0" />
<rect x="387" y="685" width="1" height="2" fill="#c0c0c0" />
<rect x="395" y="687" width="1" height="2" fill="#c0c0c0" />
<rect x="403" y="687" width="1" height="4" fill="#c0c0c0" />
<rect x="411" y="687" width="1" height="6" fill="#c0c0c0" />
<rect x="419" y="687" width="1" height="8" fill="#c0c0c0" />
<rect x="427" y="687" width="1" height="8" fill="#c0c0c0" />
<rect x="435" y="687" width="1" height="4" fill="#c0c0c0" />
<rect x="443" y="687" width="1" height="7" fill="#c0c0c0" />
<rect x="451" y="687" width="1" height="13" fill="#c0c0c0" />
<rect x="459" y="687" width="1" height="16" fill="#c0c0c0" />
<rect x="467" y="687" width="1" height="20" fill="#c0c0c0" />
<rect x="475" y="687" width="1" height="22" fill="#c0c0c0" />
<rect x="483" y="687" width="1" height="23" fill="#c0c0c0" />
<rect x="491" y="687" width="1" height="28" fill="#c0c0c0" />
<rect x="499" y="687" width="1" height="35" fill="#c0c0c0" />
<rect x="507" y="687" width="1" height="40" fill="#c0c0c0" />
<rect x="515" y="687" width="1" height="43" fill="#c0c0c0" />
<rect x="523" y="687" width="1" height="46" fill="#c0c0c0" />
<rect x="531" y="687" width="1" height="50" fill="#c0c0c0" />
<rect x="539" y="687" width="1" height="54" fill="#c0c0c0" />
<rect x="547" y="687" width="1" height="54" fill="#c0c0c0" />
<rect x="555" y="687" width="1" height="52" fill="#c0c0c0" />
<rect x="563" y="687" width="1" height="46" fill="#c0c0c0" />
<rect x="571" y="687" width="1" height="41" fill="#c0c0c0" />
<rect x="579" y="687" width="1" height="36" fill="#c0c0c0" />
<rect x="587" y="687" width="1" height="34" fill="#c0c0c0" />
<rect x="595" y="687" width="1" height="33" fill="#c0c0c0" />
<rect x="603" y="687" width="1" height="31" fill="#c0c0c0" />
<rect x="611" y="687" width="1" height="28" fill="#c0c0c0" />
<rect x="619" y="687" width="1" height="25" fill="#c0c0c0" />
<rect x="627" y="687" width="1" height="22" fill="#c0c0c0" />
<rect x="635" y="687" width="1" height="22" fill="#c0c0c0" />
<rect x="643" y="687" width="1" height="22" fill="#c0c0c0" />
<rect x="651" y="687" width="1" height="18" fill="#c0c0c0" />
<rect x="659" y="687" width="1" height="14" fill="#c0c0c0" />
<rect x="667" y="687" width="1" height="12" fill="#c0c0c0" />
<rect x="675" y="687" width="1" height="8" fill="#c0c0c0" />
<rect x="683" y="687" width="1" height="7" fill="#c0c0c0" />
<rect x="691" y="687" width="1" height="8" fill="#c0c0c0" />
<rect x="699" y="687" width="1" height="8" fill="#c0c0c0" />
<rect x="707" y="687" width="1" height="8" fill="#c0c0c0" />
<rect x="715" y="687" width="1" height="8" fill="#c0c0c0" />
<rect x="723" y="687" width="1" height="9" fill="#c0c0c0" />
<rect x="731" y="687" width="1" height="9" fill="#c0c0c0" />
<rect x="739" y="687" width="1" height="8" fill="#c0c0c0" />
<rect x="747" y="687" width="1" height="8" fill="#c0c0c0" />
<rect x="755" y="687" width="1" height="9" fill="#c0c0c0" />
<rect x="763" y="687" width="1" height="8" fill="#c0c0c0" />
<rect x="771" y="687" width="1" height="6" fill="#c0c0c0" />
<rect x="779" y="687" width="1" height="5" fill="#c0c0c0" />
<rect x="787" y="687" width="1" height="5" fill="#c0c0c0" />
<rect x="795" y="687" width="1" height="6" fill="#c0c0c0" />
<rect x="803" y="687" width="1" height="6" fill="#c0c0c0" />
<rect x="811" y="687" width="1" height="5" fill="#c0c0c0" />
<rect x="819" y="687" width="1" height="5" fill="#c0c0c0" />
<rect x="827" y="687" width="1" height="6" fill="#c0c0c0" />
<rect x="835" y="687" width="1" height="10" fill="#c0c0c0" />
<rect x="843" y="687" width="1" height="12" fill="#c0c0c0" />
<rect x="851" y="687" width="1" height="14" fill="#c0c0c0" />
<rect x="859" y="687" width="1" height="16" fill="#c0c0c0" />
<rect x="867" y="687" width="1" height="16" fill="#c0c0c0" />
<rect x="875" y="687" width="1" height="20" fill="#c0c0c0" />
<rect x="883" y="687" width="1" height="21" fill="#c0c0c0" />
<rect x="891" y="687" width="1" height="22" fill="#c0c0c0" />
<rect x="899" y="687" width="1" height="21" fill="#c0c0c0" />
<rect x="907" y="687" width="1" height="20" fill="#c0c0c0" />
<rect x="915" y="687" width="1" height="19" fill="#c0c0c0" />
<rect x="923" y="687" width="1" height="18" fill="#c0c0c0" />
<rect x="931" y="687" width="1" height="20" fill="#c0c0c0" />
<rect x="939" y="687" width="1" height="22" fill="#c0c0c0" />
<rect x="947" y="687" width="1" height="22" fill="#c0c0c0" />
<rect x="955" y="687" width="1" height="21" fill="#c0c0c0" />
<rect x="963" y="687" width="1" height="19" fill="#c0c0c0" />
<rect x="971" y="687" width="1" height="18" fill="#c0c0c0" />
<rect x="979" y="687" width="1" height="18" fill="#c0c0c0" />
<rect x="987" y="687" width="1" height="20" fill="#c0c0c0" />
<rect x="995" y="687" width="1" height="21" fill="#c0c0c0" />
<rect x="1003" y="687" width="1" height="21" fill="#c0c0c0" />
<rect x="1011" y="687" width="1" height="21" fill="#c0c0c0" />
<rect x="1019" y="687" width="1" height="22" fill="#c0c0c0" />
<rect x="1027" y="687" width="1" height="25" fill="#c0c0c0" />
<rect x="1035" y="687" width="1" height="25" fill="#c0c0c0" />
<rect x="1043" y="687" width="1" height="25" fill="#c0c0c0" />
<rect x="1051" y="687" width="1" height="24" fill="#c0c0c0" />
<rect x="1059" y="687" width="1" height="24" fill="#c0c0c0" />
<rect x="1067" y="687" width="1" height="24" fill="#c0c0c0" />
<rect x="1075" y="687" width="1" height="24" fill="#c0c0c0" />
<rect x="1083" y="687" width="1" height="24" fill="#c0c0c0" />
<rect x="1091" y="687" width="1" height="24" fill="#c0c0c0" />
<rect x="1099" y="687" width="1" height="25" fill="#c0c0c0" />
<rect x="1107" y="687" width="1" height="26" fill="#c0c0c0" />
<rect x="1115" y="687" width="1" height="28" fill="#c0c0c0" />
<rect x="1123" y="687" width="1" height="28" fill="#c0c0c0" />
<rect x="1131" y="687" width="1" height="28" fill="#c0c0c0" />
<rect x="1139" y="687" width="1" height="26" fill="#c0c0c0" />
<rect x="1147" y="687" width="1" height="25" fill="#c0c0c0" />
<rect x="1155" y="687" width="1" height="24" fill="#c0c0c0" />
<rect x="1163" y="687" width="1" height="23" fill="#c0c0c0" />
<rect x="1171" y="687" width="1" height="18" fill="#c0c0c0" />
<rect x="1179" y="687" width="1" height="15" fill="#c0c0c0" />
<rect x="1187" y="687" width="1" height="13" fill="#c0c0c0" />
<rect x="1195" y="687" width="1" height="11" fill="#c0c0c0" />
<rect x="1203" y="687" width="1" height="9" fill="#c0c0c0" />
<rect x="1211" y="687" width="1" height="8" fill="#c0c0c0" />
<rect x="1219" y="687" width="1" height="7" fill="#c0c0c0" />
<rect x="1227" y="687" width="1" height="6" fill="#c0c0c0" />
<rect x="1235" y="687" width="1" height="6" fill="#c0c0c0" />
<rect x="1243" y="687" width="1" height="4" fill="#c0c0c0" />
<rect x="1251" y="687" width="1" height="3" fill="#c0c0c0" />
<rect x="1267" y="684" width="1" height="3" fill="#c0c0c0" />
<rect x="1275" y="680" width="1" height="7" fill="#c0c0c0" />
<rect x="1283" y="677" width="1" height="10" fill="#c0c0c0" />
<rect x="1291" y="674" width="1" height="13" fill="#c0c0c0" />
<rect x="1299" y="672" width="1" height="15" fill="#c0c0c0" />
<rect x="1307" y="672" width="1" height="15" fill="#c0c0c0" />
<rect x="1315" y="671" width="1" height="16" fill="#c0c0c0" />
<rect x="1323" y="672" width="1" height="15" fill="#c0c0c0" />
<rect x="1331" y="674" width="1" height="13" fill="#c0c0c0" />
<rect x="1339" y="675" width="1" height="12" fill="#c0c0c0" />
<rect x="1347" y="677" width="1" height="10" fill="#c0c0c0" />
<rect x="1355" y="679" width="1" height="8" fill="#c0c0c0" />
<rect x="1363" y="679" width="1" height="8" fill="#c0c0c0" />
<rect x="1371" y="681" width="1" height="6" fill="#c0c0c0" />
<rect x="1379" y="684" width="1" height="3" fill="#c0c0c0" />
<rect x="1395" y="687" width="1" height="5" fill="#c0c0c0" />
<rect x="1403" y="687" width="1" height="8" fill="#c0c0c0" />
<rect x="1411" y="687" width="1" height="8" fill="#c0c0c0" />
<rect x="1419" y="687" width="1" height="10" fill="#c0c0c0" />
<rect x="1427" y="687" width="1" height="8" fill="#c0c0c0" />
<rect x="1435" y="687" width="1" height="8" fill="#c0c0c0" />
<rect x="1443" y="687" width="1" height="8" fill="#c0c0c0" />
<rect x="1451" y="687" width="1" height="8" fill="#c0c0c0" />
<rect x="1459" y="687" width="1" height="9" fill="#c0c0c0" />
<rect x="1467" y="687" width="1" height="10" fill="#c0c0c0" />
<rect x="1475" y="687" width="1" height="10" fill="#c0c0c0" />
<rect x="1483" y="687" width="1" height="10" fill="#c0c0c0" />
<rect x="1491" y="687" width="1" height="10" fill="#c0c0c0" />
<rect x="1499" y="687" width="1" height="8" fill="#c0c0c0" />
</g>
<polyline points="0.0,625.5 15.0,615.0 25.0,607.0 37.5,600.0 50.0,598.2 60.0,600.0 75.0,608.8 87.5,617.5 102.5,630.0 120.0,640.5 140.0,650.5 160.0,660.5 180.0,670.5 195.0,677.5 212.5,680.0 237.5,678.8 265.0,678.2 282.5,680.8 300.0,683.2 325.0,685.8 350.0,687.5 380.0,687.0 405.0,688.2 433.0,690.5 453.0,692.5 473.0,697.5 498.0,703.8 518.0,713.8 538.0,723.8 555.5,731.2 573.0,734.2 593.0,732.0 613.0,726.2 628.0,718.8 648.0,713.0 668.0,708.2 683.0,703.2 698.0,699.2 723.0,695.8 758.0,695.0 783.0,694.5 808.0,693.8 845.5,693.2 855.5,695.8 866.0,697.5 881.0,700.8 898.5,703.8 921.0,706.2 941.0,707.5 966.0,706.8 991.0,706.2 1016.0,707.5 1041.0,709.5 1066.0,710.5 1091.0,711.2 1116.0,711.8 1141.0,712.5 1166.0,712.0 1181.0,710.0 1198.5,706.2 1216.0,702.0 1228.5,698.0 1246.0,695.0 1261.0,691.8 1278.5,688.8 1285.0,686.2 1300.0,682.0 1317.5,677.5 1335.0,673.2 1357.5,673.2 1375.0,675.5 1395.0,680.0 1415.0,685.5 1432.5,690.5 1450.0,693.2 1465.0,695.0 1497.5,695.0" fill="none" stroke="#ff0000" stroke-width="1" stroke-dasharray="3 3" shape-rendering="crispEdges"/>
<g shape-rendering="crispEdges">
<line x1="0" y1="786.5" x2="1685" y2="786.5" stroke="#c0c0c0" stroke-width="1" stroke-dasharray="3 3"/>
<line x1="0" y1="837.5" x2="1685" y2="837.5" stroke="#c0c0c0" stroke-width="1" stroke-dasharray="3 3"/>
<line x1="0" y1="898.5" x2="1685" y2="898.5" stroke="#c0c0c0" stroke-width="1" stroke-dasharray="3 3"/>
</g>
<polyline points="3.0,785.0 11.0,784.2 19.0,784.2 27.0,788.8 35.0,812.5 43.0,829.5 51.0,837.0 59.0,830.0 67.0,822.5 75.0,830.0 83.0,826.2 91.0,827.0 99.0,825.0 107.0,820.5 115.0,831.2 123.0,838.0 131.0,839.5 139.0,841.2 147.0,842.5 155.0,849.5 163.0,848.0 171.0,829.5 179.0,835.0 187.0,836.8 195.0,834.5 203.0,828.8 211.0,823.8 219.0,824.5 227.0,836.2 235.0,832.5 243.0,832.5 251.0,839.5 259.0,844.5 267.0,853.2 275.0,845.0 283.0,834.5 291.0,829.5 299.0,833.8 307.0,838.0 315.0,827.5 323.0,843.2 331.0,846.2 339.0,847.5 347.0,838.8 355.0,833.8 363.0,832.0 371.0,838.2 379.0,831.2 387.0,833.0 395.0,847.0 403.0,847.5 411.0,850.5 419.0,845.8 427.0,840.8 435.0,841.2 443.0,842.5 451.0,859.2 459.0,861.2 467.0,859.5 475.0,858.2 483.0,858.2 491.0,873.0 499.0,877.0 507.0,878.8 515.0,877.5 523.0,881.2 531.0,883.2 539.0,884.5 547.0,875.5 555.0,874.2 563.0,844.5 571.0,846.2 579.0,844.5 587.0,854.5 595.0,853.2 603.0,847.5 611.0,845.5 619.0,844.5 627.0,842.5 635.0,855.0 643.0,849.5 651.0,836.2 659.0,837.5 667.0,834.2 675.0,831.2 683.0,835.0 691.0,846.2 699.0,843.2 707.0,846.2 715.0,848.2 723.0,849.5 731.0,850.5 739.0,838.2 747.0,851.2 755.0,841.2 763.0,839.2 771.0,838.0 779.0,836.2 787.0,838.2 795.0,852.5 803.0,841.2 811.0,840.0 819.0,841.2 827.0,848.0 835.0,859.2 843.0,862.5 851.0,864.5 859.0,860.5 867.0,860.5 875.0,870.0 883.0,861.2 891.0,865.0 899.0,851.2 907.0,855.0 915.0,851.2 923.0,852.5 931.0,865.0 939.0,868.2 947.0,856.8 955.0,845.5 963.0,845.5 971.0,850.0 979.0,855.0 987.0,863.2 995.0,866.2 1003.0,859.5 1011.0,859.5 1019.0,863.0 1027.0,870.0 1035.0,859.5 1043.0,863.2 1051.0,860.5 1059.0,861.2 1067.0,853.8 1075.0,860.5 1083.0,863.2 1091.0,865.5 1099.0,868.8 1107.0,870.5 1115.0,875.0 1123.0,871.2 1131.0,872.5 1139.0,849.5 1147.0,862.0 1155.0,855.8 1163.0,852.0 1171.0,829.5 1179.0,841.2 1187.0,836.8 1195.0,835.0 1203.0,836.8 1211.0,838.2 1219.0,835.0 1227.0,837.0 1235.0,843.2 1243.0,835.5 1251.0,834.2 1259.0,818.2 1267.0,819.2 1275.0,808.2 1283.0,816.2 1291.0,811.2 1299.0,814.5 1307.0,819.2 1315.0,815.0 1323.0,830.0 1331.0,834.2 1339.0,831.2 1347.0,833.0 1355.0,840.0 1363.0,829.5 1371.0,840.0 1379.0,850.0 1387.0,857.5 1395.0,857.5 1403.0,860.5 1411.0,854.2 1419.0,852.0 1427.0,837.5 1435.0,844.2 1443.0,845.5 1451.0,843.2 1459.0,854.2 1467.0,847.0 1475.0,850.5 1483.0,848.2 1491.0,847.0 1499.0,835.5" fill="none" stroke="#1e90ff" stroke-width="1" shape-rendering="crispEdges"/>
<g font-family="Liberation Sans, sans-serif">
<g shape-rendering="crispEdges">
<rect x="1686" y="45" width="2" height="1" fill="#000" />
<rect x="1686" y="78" width="2" height="1" fill="#000" />
<rect x="1686" y="111" width="2" height="1" fill="#000" />
<rect x="1686" y="144" width="2" height="1" fill="#000" />
<rect x="1686" y="177" width="2" height="1" fill="#000" />
<rect x="1686" y="210" width="2" height="1" fill="#000" />
<rect x="1686" y="243" width="2" height="1" fill="#000" />
<rect x="1686" y="276" width="2" height="1" fill="#000" />
<rect x="1686" y="309" width="2" height="1" fill="#000" />
<rect x="1686" y="342" width="2" height="1" fill="#000" />
<rect x="1686" y="375" width="2" height="1" fill="#000" />
<rect x="1686" y="408" width="2" height="1" fill="#000" />
<rect x="1686" y="441" width="2" height="1" fill="#000" />
</g>
<text x="1691.6" y="49" font-size="9.7" fill="#000" text-anchor="start" font-weight="normal" textLength="32.4" lengthAdjust="spacingAndGlyphs" >1.46850</text>
<text x="1691.6" y="82" font-size="9.7" fill="#000" text-anchor="start" font-weight="normal" textLength="32.4" lengthAdjust="spacingAndGlyphs" >1.45770</text>
<text x="1691.6" y="115" font-size="9.7" fill="#000" text-anchor="start" font-weight="normal" textLength="32.4" lengthAdjust="spacingAndGlyphs" >1.44690</text>
<text x="1691.6" y="148" font-size="9.7" fill="#000" text-anchor="start" font-weight="normal" textLength="32.4" lengthAdjust="spacingAndGlyphs" >1.43610</text>
<text x="1691.6" y="181" font-size="9.7" fill="#000" text-anchor="start" font-weight="normal" textLength="32.4" lengthAdjust="spacingAndGlyphs" >1.42530</text>
<text x="1691.6" y="214" font-size="9.7" fill="#000" text-anchor="start" font-weight="normal" textLength="32.4" lengthAdjust="spacingAndGlyphs" >1.41450</text>
<text x="1691.6" y="247" font-size="9.7" fill="#000" text-anchor="start" font-weight="normal" textLength="32.4" lengthAdjust="spacingAndGlyphs" >1.40370</text>
<text x="1691.6" y="280" font-size="9.7" fill="#000" text-anchor="start" font-weight="normal" textLength="32.4" lengthAdjust="spacingAndGlyphs" >1.39290</text>
<text x="1691.6" y="313" font-size="9.7" fill="#000" text-anchor="start" font-weight="normal" textLength="32.4" lengthAdjust="spacingAndGlyphs" >1.38210</text>
<text x="1691.6" y="346" font-size="9.7" fill="#000" text-anchor="start" font-weight="normal" textLength="32.4" lengthAdjust="spacingAndGlyphs" >1.37130</text>
<text x="1691.6" y="379" font-size="9.7" fill="#000" text-anchor="start" font-weight="normal" textLength="32.4" lengthAdjust="spacingAndGlyphs" >1.36050</text>
<text x="1691.6" y="412" font-size="9.7" fill="#000" text-anchor="start" font-weight="normal" textLength="32.4" lengthAdjust="spacingAndGlyphs" >1.34970</text>
<text x="1691.6" y="445" font-size="9.7" fill="#000" text-anchor="start" font-weight="normal" textLength="32.4" lengthAdjust="spacingAndGlyphs" >1.33890</text>
<text x="1691.6" y="478" font-size="9.7" fill="#000" text-anchor="start" font-weight="normal" textLength="32.4" lengthAdjust="spacingAndGlyphs" >1.32810</text>
<text x="1691.6" y="511" font-size="9.7" fill="#000" text-anchor="start" font-weight="normal" textLength="32.4" lengthAdjust="spacingAndGlyphs" >1.31730</text>
<text x="1691.6" y="544" font-size="9.7" fill="#000" text-anchor="start" font-weight="normal" textLength="32.4" lengthAdjust="spacingAndGlyphs" >1.30650</text>
<rect x="1686" y="573" width="2" height="1" fill="#000" shape-rendering="crispEdges"/>
<text x="1691.6" y="577" font-size="9.7" fill="#000" text-anchor="start" font-weight="normal" textLength="32.4" lengthAdjust="spacingAndGlyphs" >1.29600</text>
<g shape-rendering="crispEdges">
<rect x="1680.5" y="453.5" width="4" height="4" fill="#fff" stroke="#ff0000" stroke-width="1"/>
<rect x="1687" y="449" width="41" height="11" fill="#ff0000" />
<rect x="1687" y="468" width="41" height="11" fill="#ff0000" />
<rect x="1687" y="491" width="41" height="11" fill="#000000" />
<rect x="1687" y="505" width="41" height="11" fill="#ffa500" />
<rect x="1687" y="537" width="41" height="11" fill="#0000ff" />
<rect x="1687" y="557" width="41" height="11" fill="#0000ff" />
</g>
<text x="1691.8" y="458" font-size="9.6" fill="#fff" text-anchor="start" font-weight="normal" textLength="32.2" lengthAdjust="spacingAndGlyphs" >1.33456</text>
<text x="1691.8" y="477" font-size="9.6" fill="#fff" text-anchor="start" font-weight="normal" textLength="32.2" lengthAdjust="spacingAndGlyphs" >1.32836</text>
<text x="1691.8" y="500" font-size="9.6" fill="#fff" text-anchor="start" font-weight="normal" textLength="32.2" lengthAdjust="spacingAndGlyphs" >1.32099</text>
<text x="1691.8" y="514" font-size="9.6" fill="#fff" text-anchor="start" font-weight="normal" textLength="32.2" lengthAdjust="spacingAndGlyphs" >1.31630</text>
<text x="1691.8" y="546" font-size="9.6" fill="#fff" text-anchor="start" font-weight="normal" textLength="32.2" lengthAdjust="spacingAndGlyphs" >1.30586</text>
<text x="1691.8" y="566" font-size="9.6" fill="#fff" text-anchor="start" font-weight="normal" textLength="32.2" lengthAdjust="spacingAndGlyphs" >1.29934</text>
<g shape-rendering="crispEdges">
<rect x="1686" y="579" width="2" height="1" fill="#000" />
<rect x="1686" y="687" width="2" height="1" fill="#000" />
<rect x="1686" y="747" width="2" height="1" fill="#000" />
<rect x="1686" y="751" width="2" height="1" fill="#000" />
<rect x="1686" y="786" width="2" height="1" fill="#000" />
<rect x="1686" y="837" width="2" height="1" fill="#000" />
<rect x="1686" y="898" width="2" height="1" fill="#000" />
<rect x="1686" y="923" width="2" height="1" fill="#000" />
</g>
<text x="1689" y="589" font-size="9.3" fill="#000" text-anchor="start" font-weight="normal" textLength="38.5" lengthAdjust="spacingAndGlyphs" >0.032478</text>
<text x="1689" y="691" font-size="9.3" fill="#000" text-anchor="start" font-weight="normal" textLength="18.5" lengthAdjust="spacingAndGlyphs" >0.00</text>
<text x="1689" y="746" font-size="9.3" fill="#000" text-anchor="start" font-weight="normal" textLength="42" lengthAdjust="spacingAndGlyphs" >-0.018182</text>
<text x="1689" y="761" font-size="9.3" fill="#000" text-anchor="start" font-weight="normal" textLength="15.5" lengthAdjust="spacingAndGlyphs" >100</text>
<text x="1689" y="790" font-size="9.3" fill="#000" text-anchor="start" font-weight="normal" textLength="10.3" lengthAdjust="spacingAndGlyphs" >80</text>
<text x="1689" y="841" font-size="9.3" fill="#000" text-anchor="start" font-weight="normal" textLength="10.3" lengthAdjust="spacingAndGlyphs" >50</text>
<text x="1689" y="902" font-size="9.3" fill="#000" text-anchor="start" font-weight="normal" textLength="10.3" lengthAdjust="spacingAndGlyphs" >15</text>
<text x="1689" y="921" font-size="9.3" fill="#000" text-anchor="start" font-weight="normal" >0</text>
<g shape-rendering="crispEdges">
<rect x="59" y="925" width="1" height="3" fill="#000" />
<rect x="123" y="925" width="1" height="3" fill="#000" />
<rect x="187" y="925" width="1" height="3" fill="#000" />
<rect x="251" y="925" width="1" height="3" fill="#000" />
<rect x="315" y="925" width="1" height="3" fill="#000" />
<rect x="379" y="925" width="1" height="3" fill="#000" />
<rect x="443" y="925" width="1" height="3" fill="#000" />
<rect x="507" y="925" width="1" height="3" fill="#000" />
<rect x="571" y="925" width="1" height="3" fill="#000" />
<rect x="635" y="925" width="1" height="3" fill="#000" />
<rect x="699" y="925" width="1" height="3" fill="#000" />
<rect x="763" y="925" width="1" height="3" fill="#000" />
<rect x="827" y="925" width="1" height="3" fill="#000" />
<rect x="891" y="925" width="1" height="3" fill="#000" />
<rect x="955" y="925" width="1" height="3" fill="#000" />
<rect x="1019" y="925" width="1" height="3" fill="#000" />
<rect x="1083" y="925" width="1" height="3" fill="#000" />
<rect x="1147" y="925" width="1" height="3" fill="#000" />
<rect x="1211" y="925" width="1" height="3" fill="#000" />
<rect x="1275" y="925" width="1" height="3" fill="#000" />
<rect x="1339" y="925" width="1" height="3" fill="#000" />
<rect x="1403" y="925" width="1" height="3" fill="#000" />
<rect x="1467" y="925" width="1" height="3" fill="#000" />
</g>
<text x="-5.8" y="937" font-size="9.6" fill="#000" text-anchor="start" font-weight="normal" textLength="51.5" lengthAdjust="spacingAndGlyphs" >19 Mar 2020</text>
<text x="58.2" y="937" font-size="9.6" fill="#000" text-anchor="start" font-weight="normal" textLength="51.5" lengthAdjust="spacingAndGlyphs" >29 Mar 2020</text>
<text x="122.2" y="937" font-size="9.6" fill="#000" text-anchor="start" font-weight="normal" textLength="44.3" lengthAdjust="spacingAndGlyphs" >7 Apr 2020</text>
<text x="186.2" y="937" font-size="9.6" fill="#000" text-anchor="start" font-weight="normal" textLength="49.4" lengthAdjust="spacingAndGlyphs" >17 Apr 2020</text>
<text x="250.2" y="937" font-size="9.6" fill="#000" text-anchor="start" font-weight="normal" textLength="49.4" lengthAdjust="spacingAndGlyphs" >27 Apr 2020</text>
<text x="314.2" y="937" font-size="9.6" fill="#000" text-anchor="start" font-weight="normal" textLength="47.9" lengthAdjust="spacingAndGlyphs" >6 May 2020</text>
<text x="378.2" y="937" font-size="9.6" fill="#000" text-anchor="start" font-weight="normal" textLength="53.0" lengthAdjust="spacingAndGlyphs" >15 May 2020</text>
<text x="442.2" y="937" font-size="9.6" fill="#000" text-anchor="start" font-weight="normal" textLength="53.0" lengthAdjust="spacingAndGlyphs" >25 May 2020</text>
<text x="506.2" y="937" font-size="9.6" fill="#000" text-anchor="start" font-weight="normal" textLength="45.4" lengthAdjust="spacingAndGlyphs" >3 Jun 2020</text>
<text x="570.2" y="937" font-size="9.6" fill="#000" text-anchor="start" font-weight="normal" textLength="50.5" lengthAdjust="spacingAndGlyphs" >12 Jun 2020</text>
<text x="634.2" y="937" font-size="9.6" fill="#000" text-anchor="start" font-weight="normal" textLength="50.5" lengthAdjust="spacingAndGlyphs" >22 Jun 2020</text>
<text x="698.2" y="937" font-size="9.6" fill="#000" text-anchor="start" font-weight="normal" textLength="42.3" lengthAdjust="spacingAndGlyphs" >1 Jul 2020</text>
<text x="762.2" y="937" font-size="9.6" fill="#000" text-anchor="start" font-weight="normal" textLength="47.4" lengthAdjust="spacingAndGlyphs" >10 Jul 2020</text>
<text x="826.2" y="937" font-size="9.6" fill="#000" text-anchor="start" font-weight="normal" textLength="47.4" lengthAdjust="spacingAndGlyphs" >20 Jul 2020</text>
<text x="890.2" y="937" font-size="9.6" fill="#000" text-anchor="start" font-weight="normal" textLength="47.4" lengthAdjust="spacingAndGlyphs" >29 Jul 2020</text>
<text x="954.2" y="937" font-size="9.6" fill="#000" text-anchor="start" font-weight="normal" textLength="46.4" lengthAdjust="spacingAndGlyphs" >7 Aug 2020</text>
<text x="1018.2" y="937" font-size="9.6" fill="#000" text-anchor="start" font-weight="normal" textLength="51.5" lengthAdjust="spacingAndGlyphs" >17 Aug 2020</text>
<text x="1082.2" y="937" font-size="9.6" fill="#000" text-anchor="start" font-weight="normal" textLength="51.5" lengthAdjust="spacingAndGlyphs" >26 Aug 2020</text>
<text x="1146.2" y="937" font-size="9.6" fill="#000" text-anchor="start" font-weight="normal" textLength="46.9" lengthAdjust="spacingAndGlyphs" >4 Sep 2020</text>
<text x="1210.2" y="937" font-size="9.6" fill="#000" text-anchor="start" font-weight="normal" textLength="52.0" lengthAdjust="spacingAndGlyphs" >14 Sep 2020</text>
<text x="1274.2" y="937" font-size="9.6" fill="#000" text-anchor="start" font-weight="normal" textLength="52.0" lengthAdjust="spacingAndGlyphs" >23 Sep 2020</text>
<text x="1338.2" y="937" font-size="9.6" fill="#000" text-anchor="start" font-weight="normal" textLength="44.8" lengthAdjust="spacingAndGlyphs" >2 Oct 2020</text>
<text x="1402.2" y="937" font-size="9.6" fill="#000" text-anchor="start" font-weight="normal" textLength="49.9" lengthAdjust="spacingAndGlyphs" >12 Oct 2020</text>
<text x="1466.2" y="937" font-size="9.6" fill="#000" text-anchor="start" font-weight="normal" textLength="49.9" lengthAdjust="spacingAndGlyphs" >21 Oct 2020</text>
</g>
<g font-family="Liberation Sans, sans-serif">
<rect x="0" y="41" width="217" height="66" fill="#fff" />
<rect x="0" y="43" width="50" height="24" fill="url(#gb)" />
<rect x="165" y="43" width="52" height="24" fill="url(#gb)" />
<rect x="0" y="67" width="107" height="40" fill="url(#gp)" />
<rect x="109" y="67" width="108" height="40" fill="url(#gp)" />
<rect x="2" y="66" width="44" height="1" fill="#8a8af8" shape-rendering="crispEdges"/>
<rect x="169" y="66" width="44" height="1" fill="#8a8af8" shape-rendering="crispEdges"/>
<rect x="52.5" y="43.5" width="110" height="20" fill="#fff" stroke="#a8a8a8" stroke-width="1" shape-rendering="crispEdges"/>
<rect x="53" y="44" width="20" height="19" fill="url(#gs)" />
<rect x="142" y="44" width="20" height="19" fill="url(#gs)" />
<rect x="73" y="44" width="1" height="19" fill="#b0b0b0" shape-rendering="crispEdges"/>
<rect x="141" y="44" width="1" height="19" fill="#b0b0b0" shape-rendering="crispEdges"/>
<polygon points="60,52 66,52 63,55.5" fill="#4a5aa8"/>
<polygon points="149,55 155,55 152,51.5" fill="#4a5aa8"/>
<text x="137.5" y="58.3" font-size="12.5" fill="#000" text-anchor="end" font-weight="normal" >1.00</text>
<text x="23.3" y="58.8" font-size="12.3" fill="#fff" text-anchor="middle" font-weight="normal" textLength="25.5" lengthAdjust="spacingAndGlyphs" >SELL</text>
<text x="190.3" y="58.8" font-size="12.3" fill="#fff" text-anchor="middle" font-weight="normal" textLength="23.5" lengthAdjust="spacingAndGlyphs" >BUY</text>
<text x="18.3" y="97.8" font-size="11" fill="#fff" text-anchor="start" font-weight="bold" textLength="24" lengthAdjust="spacingAndGlyphs" >1.32</text>
<text x="44.6" y="98.4" font-size="34" fill="#fff" text-anchor="start" font-weight="normal" textLength="36.5" lengthAdjust="spacingAndGlyphs" stroke="url(#gp2)" stroke-width="0.9">09</text>
<text x="85.5" y="81.8" font-size="12" fill="#fff" text-anchor="start" font-weight="bold" >9</text>
<text x="128.3" y="97.8" font-size="11" fill="#fff" text-anchor="start" font-weight="bold" textLength="24" lengthAdjust="spacingAndGlyphs" >1.32</text>
<text x="155.5" y="98.4" font-size="34" fill="#fff" text-anchor="start" font-weight="normal" textLength="36.5" lengthAdjust="spacingAndGlyphs" stroke="url(#gp2)" stroke-width="0.9">12</text>
<text x="196.3" y="81.8" font-size="12" fill="#fff" text-anchor="start" font-weight="bold" >8</text>
</g>
<g>
<g shape-rendering="crispEdges">
<rect x="0" y="0" width="1732" height="18" fill="#f0f0f0" />
<rect x="0" y="18" width="1732" height="1" fill="#e4e4e4" />
<rect x="0" y="19" width="1732" height="1" fill="#b0b0b0" />
<rect x="0" y="20" width="1732" height="1" fill="#6c6c6c" />
<rect x="0" y="21" width="1732" height="2" fill="#ffffff" />
<rect x="321" y="0" width="24" height="18" fill="#f9f9f9" />
<rect x="473" y="0" width="24" height="18" fill="#f9f9f9" />
<rect x="501" y="0" width="24" height="18" fill="#f9f9f9" />
<rect x="661" y="0" width="24" height="18" fill="#f9f9f9" />
<rect x="1135" y="0" width="24" height="18" fill="#f9f9f9" />
<rect x="46" y="0" width="1" height="17" fill="#a0a0a0" />
<rect x="320" y="0" width="1" height="17" fill="#a0a0a0" />
<rect x="377" y="0" width="1" height="17" fill="#a0a0a0" />
<rect x="467" y="0" width="1" height="17" fill="#a0a0a0" />
<rect x="472" y="0" width="1" height="17" fill="#a0a0a0" />
<rect x="500" y="0" width="1" height="17" fill="#a0a0a0" />
<rect x="529" y="0" width="1" height="17" fill="#a0a0a0" />
<rect x="660" y="0" width="1" height="17" fill="#a0a0a0" />
<rect x="717" y="0" width="1" height="17" fill="#a0a0a0" />
<rect x="1134" y="0" width="1" height="17" fill="#a0a0a0" />
<rect x="1217" y="0" width="1" height="17" fill="#a0a0a0" />
<rect x="282" y="0" width="1" height="19" fill="#a6a6a6" />
<rect x="283" y="0" width="1" height="19" fill="#ffffff" />
<rect x="650" y="0" width="1" height="19" fill="#a6a6a6" />
<rect x="651" y="0" width="1" height="19" fill="#ffffff" />
<rect x="956" y="0" width="1" height="19" fill="#a6a6a6" />
<rect x="957" y="0" width="1" height="19" fill="#ffffff" />
<rect x="286" y="1" width="3" height="1" fill="#b0b0b0" />
<rect x="286" y="3" width="3" height="1" fill="#b0b0b0" />
<rect x="286" y="5" width="3" height="1" fill="#b0b0b0" />
<rect x="286" y="7" width="3" height="1" fill="#b0b0b0" />
<rect x="286" y="9" width="3" height="1" fill="#b0b0b0" />
<rect x="286" y="11" width="3" height="1" fill="#b0b0b0" />
<rect x="286" y="13" width="3" height="1" fill="#b0b0b0" />
<rect x="286" y="15" width="3" height="1" fill="#b0b0b0" />
<rect x="654" y="1" width="3" height="1" fill="#b0b0b0" />
<rect x="654" y="3" width="3" height="1" fill="#b0b0b0" />
<rect x="654" y="5" width="3" height="1" fill="#b0b0b0" />
<rect x="654" y="7" width="3" height="1" fill="#b0b0b0" />
<rect x="654" y="9" width="3" height="1" fill="#b0b0b0" />
<rect x="654" y="11" width="3" height="1" fill="#b0b0b0" />
<rect x="654" y="13" width="3" height="1" fill="#b0b0b0" />
<rect x="654" y="15" width="3" height="1" fill="#b0b0b0" />
<rect x="959" y="1" width="3" height="1" fill="#b0b0b0" />
<rect x="959" y="3" width="3" height="1" fill="#b0b0b0" />
<rect x="959" y="5" width="3" height="1" fill="#b0b0b0" />
<rect x="959" y="7" width="3" height="1" fill="#b0b0b0" />
<rect x="959" y="9" width="3" height="1" fill="#b0b0b0" />
<rect x="959" y="11" width="3" height="1" fill="#b0b0b0" />
<rect x="959" y="13" width="3" height="1" fill="#b0b0b0" />
<rect x="959" y="15" width="3" height="1" fill="#b0b0b0" />
</g>
<rect x="-3" y="-4" width="12" height="17.5" rx="1.5" fill="#fff" stroke="#3a6fd0" stroke-width="1.4"/>
<line x1="0" y1="1.5" x2="8" y2="1.5" stroke="#9db8ec" stroke-width="1"/>
<line x1="0" y1="4" x2="8" y2="4" stroke="#9db8ec" stroke-width="1"/>
<line x1="0" y1="6.5" x2="8" y2="6.5" stroke="#9db8ec" stroke-width="1"/>
<line x1="0" y1="9" x2="8" y2="9" stroke="#9db8ec" stroke-width="1"/>
<rect x="21.5" y="-3" width="11.5" height="15.5" fill="#fbf8f2" stroke="#b8b0a0" stroke-width="1"/>
<path d="M24,2v5M27,1v5M30,2v4" stroke="#777" stroke-width="1"/>
<line x1="33" y1="11.5" x2="38" y2="15.8" stroke="#c8981c" stroke-width="2.6" stroke-linecap="round"/>
<circle cx="29.3" cy="8" r="4.8" fill="#dbe8f6" fill-opacity=".85" stroke="#7aa4dc" stroke-width="1.3"/>
<path d="M28,5.5v4.5M30.5,5v4" stroke="#8a9ab0" stroke-width="1.3"/>
<path d="M56.5,-3H64L67.5,1V12.3H56.5Z" fill="#fdfdfd" stroke="#8c8c8c" stroke-width="1"/>
<path d="M58.5,2.5H62 M58.5,5H64.5 M58.5,7.5H62" stroke="#9a9a9a" stroke-width="1.2"/>
<path d="M64.1,5.2h3.8v3.8h3.8v3.8h-3.8v3.8h-3.8v-3.8h-3.8v-3.8h3.8z" fill="#1fc41f" stroke="#0c8a0c" stroke-width=".9"/>
<text x="74.7" y="9.7" font-size="12.5" fill="#000" text-anchor="start" textLength="36.8" lengthAdjust="spacing" style="font-family:'Liberation Sans','Noto Sans CJK SC',sans-serif">新订单</text>
<path d="M128.5,-2L139,6.5L131.5,15L123,8.5Z" fill="#e8b828" stroke="#b07c10" stroke-width="1"/>
<path d="M128.5,0L136.5,6.5L131,12.5" fill="none" stroke="#f8e088" stroke-width="1.4"/>
<rect x="153.5" y="-3" width="10" height="11" fill="#2f7fe0" stroke="#1c5cb8" stroke-width="1"/>
<rect x="156" y="1" width="6" height="2" fill="#bcd8fa"/>
<path d="M153.5,14.2a3,3 0 0 1 .4,-6a3.6,3.6 0 0 1 6.6,-1.2a2.8,2.8 0 0 1 3.6,2.2a2.5,2.5 0 0 1 -.2,5z" fill="#e4ecf8" stroke="#6f92c8" stroke-width="1"/>
<circle cx="187.2" cy="6.9" r="7.2" fill="none" stroke="#9fb6e4" stroke-width="1.2"/>
<circle cx="187.2" cy="6.9" r="4.6" fill="none" stroke="#5f86d4" stroke-width="1.3"/>
<path d="M187.2,-0.6a7.5,7.5 0 0 1 0,15z" fill="#8fc890"/>
<path d="M187.2,2.3a4.6,4.6 0 0 1 0,9.2z" fill="#b8dcb8"/>
<circle cx="187.2" cy="6.6" r="1.7" fill="#2f62c8"/>
<line x1="187.4" y1="7" x2="187.4" y2="14.3" stroke="#18a018" stroke-width="1.3"/>
<path d="M206.5,3.8L221.5,3.8L213.8,14.5Z" fill="#f6da5c" stroke="#d8b020" stroke-width=".8"/>
<ellipse cx="214" cy="3.2" rx="7.8" ry="2.6" fill="#5aa8e0" stroke="#3a84c4" stroke-width=".8"/>
<path d="M210.5,3C210.5,-1 211.5,-4 214,-4S217.5,-1 217.5,3Z" fill="#4a9cdc"/>
<circle cx="218.4" cy="10.8" r="4.1" fill="#e02010"/>
<rect x="216.7" y="9.1" width="3.4" height="3.4" fill="#fff"/>
<text x="227.6" y="9.7" font-size="12.3" fill="#000" text-anchor="start" textLength="46.6" lengthAdjust="spacing" style="font-family:'Liberation Sans','Noto Sans CJK SC',sans-serif">自动交易</text>
<path d="M300.5,2V15 M298,12.5H311.5" stroke="#555" stroke-width="1.1" fill="none"/>
<path d="M298.4,4L300.5,1L302.6,4Z M309.5,10.4L312.5,12.5L309.5,14.6Z" fill="#555"/>
<path d="M306.8,3V10 M306.8,3.5H309.5 M304,9.5H306.8" stroke="#0a8a0a" stroke-width="1.3" fill="none"/>
<path d="M328.5,2V15 M326,12.5H339.5" stroke="#555" stroke-width="1.1" fill="none"/>
<path d="M326.4,4L328.5,1L330.6,4Z M337.5,10.4L340.5,12.5L337.5,14.6Z" fill="#555"/>
<line x1="334.6" y1="0" x2="334.6" y2="10.5" stroke="#0a8a0a" stroke-width="1.2"/>
<rect x="332.4" y="1.3" width="4.4" height="7.4" fill="#22dd22" stroke="#0a8a0a" stroke-width=".9"/>
<path d="M356.5,2V15 M354,12.5H367.5" stroke="#555" stroke-width="1.1" fill="none"/>
<path d="M354.4,4L356.5,1L358.6,4Z M365.5,10.4L368.5,12.5L365.5,14.6Z" fill="#555"/>
<path d="M355.5,9.6C358,8.5 359,4.3 361,4.3S364,7.5 366.8,8.6" stroke="#2a9a2a" stroke-width="1.2" fill="none"/>
<line x1="396.6" y1="9.2" x2="401.40000000000003" y2="13.8" stroke="#d8b020" stroke-width="2.8" stroke-linecap="round"/>
<circle cx="392.1" cy="4.8" r="5.6" fill="#dcebfa" stroke="#3c7cd0" stroke-width="1.3"/>
<path d="M389.1,4.8H395.1 M392.1,1.8V7.8" stroke="#3a78c0" stroke-width="1.6"/>
<line x1="424.8" y1="9.2" x2="429.6" y2="13.8" stroke="#d8b020" stroke-width="2.8" stroke-linecap="round"/>
<circle cx="420.3" cy="4.8" r="5.6" fill="#dcebfa" stroke="#3c7cd0" stroke-width="1.3"/>
<path d="M417.3,4.8H423.3" stroke="#3a78c0" stroke-width="1.6"/>
<rect x="442.3" y="-1" width="7.3" height="7.3" rx=".8" fill="#4aa820"/>
<rect x="443.7" y="2.6" width="4.5" height="2" fill="#e6f0e0"/>
<rect x="450.3" y="-1" width="7.3" height="7.3" rx=".8" fill="#2c6ce0"/>
<rect x="451.7" y="2.6" width="4.5" height="2" fill="#e6f0e0"/>
<rect x="442.3" y="6.9" width="7.3" height="7.3" rx=".8" fill="#2c6ce0"/>
<rect x="443.7" y="10.5" width="4.5" height="2" fill="#e6f0e0"/>
<rect x="450.3" y="6.9" width="7.3" height="7.3" rx=".8" fill="#4aa820"/>
<rect x="451.7" y="10.5" width="4.5" height="2" fill="#e6f0e0"/>
<path d="M480.5,2V15 M478,12.5H491.5" stroke="#555" stroke-width="1.1" fill="none"/>
<path d="M478.4,4L480.5,1L482.6,4Z M489.5,10.4L492.5,12.5L489.5,14.6Z" fill="#555"/>
<path d="M485.5,3.6L489.2,6.6L485.5,9.6Z" fill="#d8f0d8" stroke="#1a9a1a" stroke-width="1.1"/>
<path d="M508.5,2V15 M506,12.5H519.5" stroke="#555" stroke-width="1.1" fill="none"/>
<path d="M506.4,4L508.5,1L510.6,4Z M517.5,10.4L520.5,12.5L517.5,14.6Z" fill="#555"/>
<line x1="514.5" y1="1" x2="514.5" y2="10.6" stroke="#1c6cb0" stroke-width="1.2"/>
<path d="M515.3,6.5L518,4.2V5.9H520.3V7.1H518V8.8Z" fill="#d04010"/>
<path d="M539.5,-3H547L550.5,1V12.3H539.5Z" fill="#fdfdfd" stroke="#8c8c8c" stroke-width="1"/>
<path d="M541.5,2.5H545 M541.5,5H547.5 M541.5,7.5H545" stroke="#9a9a9a" stroke-width="1.2"/>
<path d="M547.1,5.2h3.8v3.8h3.8v3.8h-3.8v3.8h-3.8v-3.8h-3.8v-3.8h3.8z" fill="#1fc41f" stroke="#0c8a0c" stroke-width=".9"/>
<path d="M560.8,6.1H566.1999999999999L563.5,9.2Z" fill="#000"/>
<circle cx="585.2" cy="6.9" r="6.7" fill="#eef2fa" stroke="#1c6cd8" stroke-width="3"/>
<rect x="584" y="-2.2" width="2.4" height="1.6" fill="#1c6cd8"/>
<path d="M585.2,2.8V7.2H588.2" stroke="#444" stroke-width="1.1" fill="none"/>
<path d="M599.8,6.1H605.1999999999999L602.5,9.2Z" fill="#000"/>
<rect x="616.5" y="-2" width="15" height="15.2" fill="#fff" stroke="#3a78d0" stroke-width="1.2"/>
<rect x="616.5" y="-2" width="15" height="3.5" fill="#3a78d0" />
<rect x="617" y="7" width="14" height="1" fill="#6c9ce0" />
<path d="M618.5,6L620.5,5.2L622,4.2L624,3.6L626,5L628,4.4L629.6,3.4" stroke="#a02010" stroke-width="1.2" fill="none" stroke-dasharray="2 .7"/>
<path d="M618.5,11.2L620.5,10L622,10.8L624,9.4L626,9L628,10.2L629.6,11.4" stroke="#10a010" stroke-width="1.2" fill="none" stroke-dasharray="2 .7"/>
<path d="M638.7,6.1H644.1L641.4000000000001,9.2Z" fill="#000"/>
<path d="M668.2,-1V10.8L670.9,8.3L673.6,13.9L675.6,12.9L672.9,7.5L676.3,7.2Z" fill="#505050"/>
<path d="M700.4,0V6 M700.4,8.8V14.6 M693,7.4H699 M701.8,7.4H708" stroke="#555" stroke-width="1.1"/>
<line x1="734.5" y1="1" x2="734.5" y2="14" stroke="#555" stroke-width="1.1"/>
<line x1="757" y1="7.3" x2="769.2" y2="7.3" stroke="#555" stroke-width="1.1"/>
<line x1="785" y1="14" x2="797.3" y2="1.7" stroke="#555" stroke-width="1.1"/>
<path d="M811,8L823.5,0.5 M813,13L825.5,5 M814.5,6V12.5 M818,3.8V10.5 M821.5,1.5V8.4" stroke="#555" stroke-width="1.1" fill="none"/>
<text x="820.2" y="15.7" font-size="7.4" font-weight="bold" fill="#444" textLength="5.6" lengthAdjust="spacingAndGlyphs">E</text>
<line x1="840" y1="0.5" x2="852.8" y2="0.5" stroke="#555" stroke-width="1" stroke-dasharray="1 1"/>
<line x1="840" y1="4" x2="852.8" y2="4" stroke="#555" stroke-width="1" stroke-dasharray="1 1"/>
<line x1="840" y1="7.5" x2="852.8" y2="7.5" stroke="#555" stroke-width="1" stroke-dasharray="1 1"/>
<line x1="840" y1="11" x2="848.5" y2="11" stroke="#555" stroke-width="1" stroke-dasharray="1 1"/>
<text x="848.6" y="15.7" font-size="7.4" font-weight="bold" fill="#444" textLength="5.4" lengthAdjust="spacingAndGlyphs">F</text>
<text x="870.3" y="11.5" font-size="11.5" fill="#5a5a5a" stroke="#5a5a5a" stroke-width=".3">A</text>
<rect x="897" y="-1" width="11.4" height="14.6" fill="none" stroke="#555" stroke-width="1" stroke-dasharray="1 1"/>
<text x="899.4" y="11.6" font-size="10.6" fill="#5a5a5a" stroke="#5a5a5a" stroke-width=".3">T</text>
<path d="M927.9,0.5L930.3,3L927.9,5.5L925.5,3Z M934.5,8.7L937.4,11.4L934.5,14.1L931.6,11.4Z" fill="#505050"/>
<path d="M926.3,7L929,9.8L934,3.8" stroke="#505050" stroke-width="1.4" fill="none"/>
<path d="M944.6,6.1H950.0L947.3000000000001,9.2Z" fill="#000"/>
<text x="971" y="10.5" font-size="9.4" fill="#444" textLength="13.6" lengthAdjust="spacingAndGlyphs">M1</text>
<text x="999" y="10.5" font-size="9.4" fill="#444" textLength="13" lengthAdjust="spacingAndGlyphs">M5</text>
<text x="1025.5" y="10.5" font-size="9.4" fill="#444" textLength="18" lengthAdjust="spacingAndGlyphs">M15</text>
<text x="1053.5" y="10.5" font-size="9.4" fill="#444" textLength="18" lengthAdjust="spacingAndGlyphs">M30</text>
<text x="1084" y="10.5" font-size="9.4" fill="#444" textLength="12.4" lengthAdjust="spacingAndGlyphs">H1</text>
<text x="1111.5" y="10.5" font-size="9.4" fill="#444" textLength="12.4" lengthAdjust="spacingAndGlyphs">H4</text>
<text x="1140.5" y="10.5" font-size="9.4" fill="#444" textLength="12.2" lengthAdjust="spacingAndGlyphs">D1</text>
<text x="1167.8" y="10.5" font-size="9.4" fill="#444" textLength="14.2" lengthAdjust="spacingAndGlyphs">W1</text>
<text x="1194" y="10.5" font-size="9.4" fill="#444" textLength="15" lengthAdjust="spacingAndGlyphs">MN</text>
<line x1="1680.6" y1="11.4" x2="1684.6" y2="7.6" stroke="#2a62d4" stroke-width="2.5" stroke-linecap="round"/>
<circle cx="1687.6" cy="4.2" r="4" fill="#f2f2ff" stroke="#2a62d4" stroke-width="1.5"/>
<path d="M1721.5,8.3L1723.3,10.8L1724,8" fill="#f6f6f6" stroke="#8a8a8a" stroke-width=".9"/>
<ellipse cx="1720" cy="3.9" rx="6.5" ry="4.7" fill="#f7f7f9" stroke="#909090" stroke-width="1"/>
<path d="M1708.8,11L1708.2,13.8L1711.4,11.6" fill="#f6f6f6" stroke="#8a8a8a" stroke-width=".9"/>
<ellipse cx="1711.3" cy="7.9" rx="5.2" ry="3.9" fill="#f7f7f9" stroke="#8a8a8a" stroke-width="1"/>
</g>
</svg>
</body></html>
